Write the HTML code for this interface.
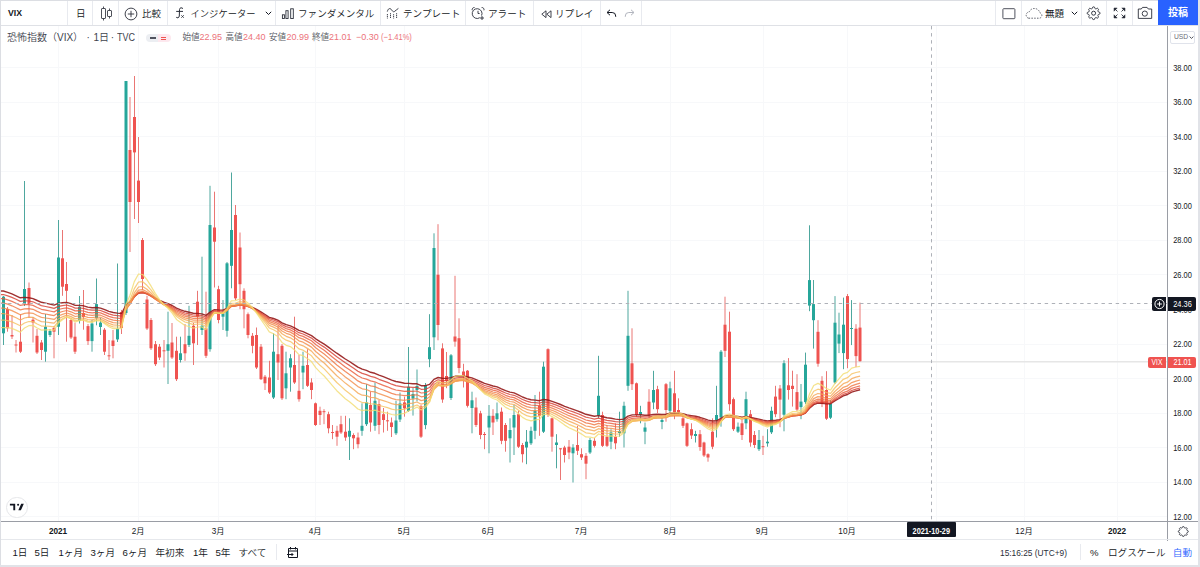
<!DOCTYPE html>
<html lang="ja"><head><meta charset="utf-8"><title>VIX</title>
<style>
html,body{margin:0;padding:0;background:#fff;}
body{position:relative;width:1200px;height:567px;overflow:hidden;font-family:"Liberation Sans","Noto Sans CJK JP",sans-serif;color:#131722;}
.a{position:absolute;white-space:nowrap;}
.t{font-family:"Liberation Sans","Noto Sans CJK JP",sans-serif;font-size:9.6px;line-height:12px;color:#131722;top:7.5px;font-weight:350;}
.sep{position:absolute;width:1px;background:#e8eaef;}
.ic{position:absolute;}
.ax{font-family:"Liberation Sans","Noto Sans CJK JP",sans-serif;font-size:8.2px;line-height:10px;color:#131722;}
.bt{font-family:"Liberation Sans","Noto Sans CJK JP",sans-serif;font-size:9.6px;line-height:12px;color:#131722;font-weight:350;}
.lg{top:31px;font-size:8.6px;line-height:12px;color:#555862;font-weight:350;}
.lv{top:31px;font-size:9px;line-height:12px;color:#ec737b;}
.lt{top:31.3px;font-size:10px;line-height:14px;color:#40434d;font-weight:350;}
</style></head><body>
<!-- frame -->
<div class="a" style="left:0;top:0;width:1199px;height:1px;background:#dcdee3"></div>
<div class="a" style="left:0;top:0;width:1px;height:567px;background:#dcdee3"></div>
<div class="a" style="left:1198px;top:0;width:2px;height:567px;background:#e1e3e8"></div>
<div class="a" style="left:0;top:565px;width:1200px;height:2px;background:#e1e3e8"></div>

<svg class="a" style="left:0;top:0" width="1200" height="567" viewBox="0 0 1200 567">
<defs><clipPath id="cp"><rect x="1" y="26" width="1166" height="495"/></clipPath></defs>
<g stroke="#f7f8fa" stroke-width="1" clip-path="url(#cp)"><line x1="1" x2="1167" y1="516.5" y2="516.5"/><line x1="1" x2="1167" y1="482.5" y2="482.5"/><line x1="1" x2="1167" y1="447.5" y2="447.5"/><line x1="1" x2="1167" y1="413.5" y2="413.5"/><line x1="1" x2="1167" y1="378.5" y2="378.5"/><line x1="1" x2="1167" y1="344.5" y2="344.5"/><line x1="1" x2="1167" y1="309.5" y2="309.5"/><line x1="1" x2="1167" y1="274.5" y2="274.5"/><line x1="1" x2="1167" y1="240.5" y2="240.5"/><line x1="1" x2="1167" y1="205.5" y2="205.5"/><line x1="1" x2="1167" y1="171.5" y2="171.5"/><line x1="1" x2="1167" y1="136.5" y2="136.5"/><line x1="1" x2="1167" y1="102.5" y2="102.5"/><line x1="1" x2="1167" y1="67.5" y2="67.5"/><line x1="58.5" x2="58.5" y1="26" y2="521"/><line x1="138.5" x2="138.5" y1="26" y2="521"/><line x1="218.5" x2="218.5" y1="26" y2="521"/><line x1="315.5" x2="315.5" y1="26" y2="521"/><line x1="404.5" x2="404.5" y1="26" y2="521"/><line x1="488.5" x2="488.5" y1="26" y2="521"/><line x1="581.5" x2="581.5" y1="26" y2="521"/><line x1="670.5" x2="670.5" y1="26" y2="521"/><line x1="763.5" x2="763.5" y1="26" y2="521"/><line x1="847.5" x2="847.5" y1="26" y2="521"/><line x1="936.5" x2="936.5" y1="26" y2="521"/><line x1="1024.5" x2="1024.5" y1="26" y2="521"/><line x1="1117.5" x2="1117.5" y1="26" y2="521"/></g>
<line x1="1" x2="1167" y1="361.8" y2="361.8" stroke="#e6e6e6" stroke-width="1.6"/>
<g stroke-width="1" clip-path="url(#cp)"><line x1="3.5" x2="3.5" y1="296.0" y2="345.0" stroke="#4ea79e"/><rect x="2.0" y="296.7" width="3" height="36.6" fill="#26a69a"/><line x1="7.5" x2="7.5" y1="307.0" y2="331.7" stroke="#ea7674"/><rect x="6.0" y="309.0" width="3" height="19.3" fill="#ef5350"/><line x1="12.0" x2="12.0" y1="315.0" y2="339.0" stroke="#ea7674"/><rect x="10.5" y="335.0" width="3" height="1.5" fill="#ef5350"/><line x1="16.0" x2="16.0" y1="340.0" y2="352.5" stroke="#ea7674"/><rect x="14.5" y="344.5" width="3" height="1.0" fill="#ef5350"/><line x1="20.5" x2="20.5" y1="314.0" y2="353.0" stroke="#ea7674"/><rect x="19.0" y="341.7" width="3" height="10.0" fill="#ef5350"/><line x1="24.5" x2="24.5" y1="181.0" y2="306.0" stroke="#4ea79e"/><rect x="23.0" y="289.0" width="3" height="15.0" fill="#26a69a"/><line x1="29.0" x2="29.0" y1="282.5" y2="318.0" stroke="#ea7674"/><rect x="27.5" y="288.0" width="3" height="16.0" fill="#ef5350"/><line x1="33.0" x2="33.0" y1="317.0" y2="342.5" stroke="#ea7674"/><rect x="31.5" y="319.7" width="3" height="2.8" fill="#ef5350"/><line x1="37.0" x2="37.0" y1="329.0" y2="354.0" stroke="#ea7674"/><rect x="35.5" y="335.8" width="3" height="16.7" fill="#ef5350"/><line x1="41.5" x2="41.5" y1="340.0" y2="360.0" stroke="#ea7674"/><rect x="40.0" y="342.5" width="3" height="7.5" fill="#ef5350"/><line x1="45.5" x2="45.5" y1="314.0" y2="361.7" stroke="#4ea79e"/><rect x="44.0" y="326.7" width="3" height="25.0" fill="#26a69a"/><line x1="50.0" x2="50.0" y1="329.0" y2="337.0" stroke="#4ea79e"/><rect x="48.5" y="331.0" width="3" height="4.0" fill="#26a69a"/><line x1="54.0" x2="54.0" y1="326.0" y2="358.3" stroke="#ea7674"/><rect x="52.5" y="328.0" width="3" height="3.7" fill="#ef5350"/><line x1="58.5" x2="58.5" y1="220.0" y2="335.0" stroke="#4ea79e"/><rect x="57.0" y="257.5" width="3" height="69.2" fill="#26a69a"/><line x1="62.5" x2="62.5" y1="230.0" y2="295.8" stroke="#ea7674"/><rect x="61.0" y="258.3" width="3" height="28.4" fill="#ef5350"/><line x1="66.5" x2="66.5" y1="262.0" y2="341.7" stroke="#ea7674"/><rect x="65.0" y="284.0" width="3" height="6.8" fill="#ef5350"/><line x1="71.0" x2="71.0" y1="318.0" y2="339.0" stroke="#ea7674"/><rect x="69.5" y="320.0" width="3" height="17.5" fill="#ef5350"/><line x1="75.0" x2="75.0" y1="322.6" y2="354.0" stroke="#ea7674"/><rect x="73.5" y="336.7" width="3" height="15.0" fill="#ef5350"/><line x1="79.5" x2="79.5" y1="296.0" y2="323.5" stroke="#4ea79e"/><rect x="78.0" y="306.7" width="3" height="14.1" fill="#26a69a"/><line x1="83.5" x2="83.5" y1="290.0" y2="329.7" stroke="#ea7674"/><rect x="82.0" y="313.0" width="3" height="4.0" fill="#ef5350"/><line x1="88.0" x2="88.0" y1="324.0" y2="345.0" stroke="#ea7674"/><rect x="86.5" y="326.1" width="3" height="15.0" fill="#ef5350"/><line x1="92.0" x2="92.0" y1="320.0" y2="351.7" stroke="#4ea79e"/><rect x="90.5" y="323.5" width="3" height="17.6" fill="#26a69a"/><line x1="96.5" x2="96.5" y1="278.5" y2="325.3" stroke="#4ea79e"/><rect x="95.0" y="304.1" width="3" height="14.1" fill="#26a69a"/><line x1="100.5" x2="100.5" y1="318.0" y2="335.0" stroke="#4ea79e"/><rect x="99.0" y="322.6" width="3" height="4.4" fill="#26a69a"/><line x1="104.5" x2="104.5" y1="328.0" y2="355.0" stroke="#ea7674"/><rect x="103.0" y="329.7" width="3" height="22.0" fill="#ef5350"/><line x1="109.0" x2="109.0" y1="340.0" y2="360.0" stroke="#ea7674"/><rect x="107.5" y="355.3" width="3" height="1.0" fill="#ef5350"/><line x1="113.0" x2="113.0" y1="330.0" y2="358.3" stroke="#ea7674"/><rect x="111.5" y="340.5" width="3" height="5.5" fill="#ef5350"/><line x1="117.5" x2="117.5" y1="263.5" y2="342.0" stroke="#4ea79e"/><rect x="116.0" y="328.8" width="3" height="10.6" fill="#26a69a"/><line x1="121.5" x2="121.5" y1="310.0" y2="334.0" stroke="#ea7674"/><rect x="120.0" y="312.0" width="3" height="16.0" fill="#ef5350"/><line x1="126.0" x2="126.0" y1="81.0" y2="315.0" stroke="#4ea79e"/><rect x="124.5" y="81.0" width="3" height="232.0" fill="#26a69a"/><line x1="130.0" x2="130.0" y1="97.0" y2="252.0" stroke="#ea7674"/><rect x="128.5" y="150.0" width="3" height="52.0" fill="#ef5350"/><line x1="134.5" x2="134.5" y1="76.0" y2="219.0" stroke="#ea7674"/><rect x="133.0" y="117.0" width="3" height="35.4" fill="#ef5350"/><line x1="138.5" x2="138.5" y1="137.0" y2="223.0" stroke="#ea7674"/><rect x="137.0" y="180.6" width="3" height="21.4" fill="#ef5350"/><line x1="142.5" x2="142.5" y1="238.0" y2="290.0" stroke="#ea7674"/><rect x="141.0" y="240.0" width="3" height="39.0" fill="#ef5350"/><line x1="147.0" x2="147.0" y1="295.8" y2="330.0" stroke="#ea7674"/><rect x="145.5" y="299.5" width="3" height="29.0" fill="#ef5350"/><line x1="151.0" x2="151.0" y1="318.0" y2="350.0" stroke="#ea7674"/><rect x="149.5" y="320.0" width="3" height="28.3" fill="#ef5350"/><line x1="155.5" x2="155.5" y1="341.0" y2="366.0" stroke="#ea7674"/><rect x="154.0" y="344.2" width="3" height="20.0" fill="#ef5350"/><line x1="159.5" x2="159.5" y1="344.0" y2="360.0" stroke="#ea7674"/><rect x="158.0" y="346.7" width="3" height="10.8" fill="#ef5350"/><line x1="164.0" x2="164.0" y1="340.0" y2="367.5" stroke="#ea7674"/><rect x="162.5" y="350.3" width="3" height="1.0" fill="#ef5350"/><line x1="168.0" x2="168.0" y1="311.7" y2="384.0" stroke="#4ea79e"/><rect x="166.5" y="344.2" width="3" height="6.6" fill="#26a69a"/><line x1="172.0" x2="172.0" y1="323.0" y2="359.0" stroke="#ea7674"/><rect x="170.5" y="342.5" width="3" height="15.0" fill="#ef5350"/><line x1="176.5" x2="176.5" y1="336.7" y2="381.0" stroke="#ea7674"/><rect x="175.0" y="350.8" width="3" height="28.4" fill="#ef5350"/><line x1="180.5" x2="180.5" y1="336.7" y2="362.5" stroke="#4ea79e"/><rect x="179.0" y="353.3" width="3" height="6.7" fill="#26a69a"/><line x1="185.0" x2="185.0" y1="324.0" y2="360.8" stroke="#ea7674"/><rect x="183.5" y="344.2" width="3" height="9.1" fill="#ef5350"/><line x1="189.0" x2="189.0" y1="305.8" y2="347.0" stroke="#4ea79e"/><rect x="187.5" y="335.8" width="3" height="9.2" fill="#26a69a"/><line x1="193.5" x2="193.5" y1="323.0" y2="365.0" stroke="#ea7674"/><rect x="192.0" y="325.8" width="3" height="17.5" fill="#ef5350"/><line x1="197.5" x2="197.5" y1="290.8" y2="345.0" stroke="#ea7674"/><rect x="196.0" y="301.7" width="3" height="15.0" fill="#ef5350"/><line x1="202.0" x2="202.0" y1="256.7" y2="335.0" stroke="#4ea79e"/><rect x="200.5" y="325.8" width="3" height="4.2" fill="#26a69a"/><line x1="206.0" x2="206.0" y1="291.7" y2="358.0" stroke="#ea7674"/><rect x="204.5" y="328.3" width="3" height="27.5" fill="#ef5350"/><line x1="210.0" x2="210.0" y1="185.8" y2="351.7" stroke="#4ea79e"/><rect x="208.5" y="225.0" width="3" height="124.2" fill="#26a69a"/><line x1="214.5" x2="214.5" y1="191.7" y2="287.5" stroke="#ea7674"/><rect x="213.0" y="227.5" width="3" height="14.2" fill="#ef5350"/><line x1="218.5" x2="218.5" y1="285.8" y2="323.3" stroke="#ea7674"/><rect x="217.0" y="289.2" width="3" height="30.8" fill="#ef5350"/><line x1="223.0" x2="223.0" y1="300.0" y2="330.0" stroke="#4ea79e"/><rect x="221.5" y="313.3" width="3" height="3.4" fill="#26a69a"/><line x1="227.0" x2="227.0" y1="262.0" y2="336.7" stroke="#4ea79e"/><rect x="225.5" y="263.3" width="3" height="67.5" fill="#26a69a"/><line x1="231.5" x2="231.5" y1="172.5" y2="288.3" stroke="#4ea79e"/><rect x="230.0" y="230.0" width="3" height="35.8" fill="#26a69a"/><line x1="235.5" x2="235.5" y1="205.0" y2="300.0" stroke="#ea7674"/><rect x="234.0" y="215.0" width="3" height="83.3" fill="#ef5350"/><line x1="240.0" x2="240.0" y1="232.5" y2="309.2" stroke="#ea7674"/><rect x="238.5" y="247.5" width="3" height="36.7" fill="#ef5350"/><line x1="244.0" x2="244.0" y1="288.3" y2="328.3" stroke="#ea7674"/><rect x="242.5" y="290.8" width="3" height="18.4" fill="#ef5350"/><line x1="248.0" x2="248.0" y1="312.5" y2="338.3" stroke="#ea7674"/><rect x="246.5" y="314.2" width="3" height="20.8" fill="#ef5350"/><line x1="252.5" x2="252.5" y1="333.0" y2="353.3" stroke="#ea7674"/><rect x="251.0" y="335.8" width="3" height="10.0" fill="#ef5350"/><line x1="256.5" x2="256.5" y1="327.5" y2="369.0" stroke="#ea7674"/><rect x="255.0" y="335.0" width="3" height="32.5" fill="#ef5350"/><line x1="261.0" x2="261.0" y1="344.0" y2="380.0" stroke="#ea7674"/><rect x="259.5" y="346.7" width="3" height="32.5" fill="#ef5350"/><line x1="265.0" x2="265.0" y1="375.0" y2="390.0" stroke="#ea7674"/><rect x="263.5" y="376.7" width="3" height="6.6" fill="#ef5350"/><line x1="269.5" x2="269.5" y1="360.8" y2="394.0" stroke="#ea7674"/><rect x="268.0" y="377.5" width="3" height="15.0" fill="#ef5350"/><line x1="273.5" x2="273.5" y1="333.3" y2="399.0" stroke="#4ea79e"/><rect x="272.0" y="351.7" width="3" height="45.8" fill="#26a69a"/><line x1="278.0" x2="278.0" y1="325.8" y2="380.0" stroke="#ea7674"/><rect x="276.5" y="354.2" width="3" height="8.3" fill="#ef5350"/><line x1="282.0" x2="282.0" y1="344.0" y2="400.0" stroke="#ea7674"/><rect x="280.5" y="345.8" width="3" height="52.5" fill="#ef5350"/><line x1="286.0" x2="286.0" y1="351.7" y2="399.2" stroke="#4ea79e"/><rect x="284.5" y="373.3" width="3" height="15.0" fill="#26a69a"/><line x1="290.5" x2="290.5" y1="354.2" y2="391.7" stroke="#4ea79e"/><rect x="289.0" y="358.3" width="3" height="9.2" fill="#26a69a"/><line x1="294.5" x2="294.5" y1="316.7" y2="384.0" stroke="#ea7674"/><rect x="293.0" y="365.0" width="3" height="17.5" fill="#ef5350"/><line x1="299.0" x2="299.0" y1="355.0" y2="401.7" stroke="#ea7674"/><rect x="297.5" y="390.8" width="3" height="8.4" fill="#ef5350"/><line x1="303.0" x2="303.0" y1="351.7" y2="389.2" stroke="#4ea79e"/><rect x="301.5" y="365.8" width="3" height="6.7" fill="#26a69a"/><line x1="307.5" x2="307.5" y1="349.2" y2="387.0" stroke="#ea7674"/><rect x="306.0" y="365.0" width="3" height="20.8" fill="#ef5350"/><line x1="311.5" x2="311.5" y1="378.3" y2="399.2" stroke="#ea7674"/><rect x="310.0" y="382.5" width="3" height="7.5" fill="#ef5350"/><line x1="315.5" x2="315.5" y1="402.5" y2="426.0" stroke="#ea7674"/><rect x="314.0" y="403.3" width="3" height="21.7" fill="#ef5350"/><line x1="320.0" x2="320.0" y1="406.7" y2="425.0" stroke="#ea7674"/><rect x="318.5" y="410.8" width="3" height="4.2" fill="#ef5350"/><line x1="324.0" x2="324.0" y1="409.2" y2="424.2" stroke="#ea7674"/><rect x="322.5" y="411.2" width="3" height="1.0" fill="#ef5350"/><line x1="328.5" x2="328.5" y1="411.7" y2="433.3" stroke="#ea7674"/><rect x="327.0" y="414.2" width="3" height="14.1" fill="#ef5350"/><line x1="332.5" x2="332.5" y1="425.0" y2="439.2" stroke="#ea7674"/><rect x="331.0" y="432.0" width="3" height="1.0" fill="#ef5350"/><line x1="337.0" x2="337.0" y1="425.8" y2="445.8" stroke="#ea7674"/><rect x="335.5" y="430.8" width="3" height="5.9" fill="#ef5350"/><line x1="341.0" x2="341.0" y1="415.8" y2="434.0" stroke="#ea7674"/><rect x="339.5" y="424.2" width="3" height="8.3" fill="#ef5350"/><line x1="345.5" x2="345.5" y1="415.8" y2="440.8" stroke="#ea7674"/><rect x="344.0" y="431.7" width="3" height="5.8" fill="#ef5350"/><line x1="349.5" x2="349.5" y1="418.3" y2="460.0" stroke="#4ea79e"/><rect x="348.0" y="430.8" width="3" height="5.9" fill="#26a69a"/><line x1="353.5" x2="353.5" y1="433.3" y2="449.2" stroke="#ea7674"/><rect x="352.0" y="435.0" width="3" height="3.3" fill="#ef5350"/><line x1="358.0" x2="358.0" y1="432.5" y2="448.3" stroke="#ea7674"/><rect x="356.5" y="437.5" width="3" height="6.7" fill="#ef5350"/><line x1="362.0" x2="362.0" y1="403.3" y2="435.8" stroke="#4ea79e"/><rect x="360.5" y="425.8" width="3" height="5.0" fill="#26a69a"/><line x1="366.5" x2="366.5" y1="384.2" y2="426.0" stroke="#4ea79e"/><rect x="365.0" y="402.5" width="3" height="21.7" fill="#26a69a"/><line x1="370.5" x2="370.5" y1="391.7" y2="431.7" stroke="#ea7674"/><rect x="369.0" y="405.0" width="3" height="17.5" fill="#ef5350"/><line x1="375.0" x2="375.0" y1="382.5" y2="430.8" stroke="#4ea79e"/><rect x="373.5" y="400.8" width="3" height="25.0" fill="#26a69a"/><line x1="379.0" x2="379.0" y1="400.0" y2="434.2" stroke="#ea7674"/><rect x="377.5" y="404.2" width="3" height="20.8" fill="#ef5350"/><line x1="383.5" x2="383.5" y1="408.0" y2="432.5" stroke="#ea7674"/><rect x="382.0" y="414.2" width="3" height="5.8" fill="#ef5350"/><line x1="387.5" x2="387.5" y1="411.7" y2="430.8" stroke="#ea7674"/><rect x="386.0" y="420.3" width="3" height="1.0" fill="#ef5350"/><line x1="391.5" x2="391.5" y1="417.5" y2="437.0" stroke="#ea7674"/><rect x="390.0" y="422.5" width="3" height="4.5" fill="#ef5350"/><line x1="396.0" x2="396.0" y1="400.8" y2="435.0" stroke="#4ea79e"/><rect x="394.5" y="420.5" width="3" height="12.8" fill="#26a69a"/><line x1="400.0" x2="400.0" y1="392.6" y2="422.0" stroke="#4ea79e"/><rect x="398.5" y="403.5" width="3" height="16.0" fill="#26a69a"/><line x1="404.5" x2="404.5" y1="396.7" y2="416.7" stroke="#ea7674"/><rect x="403.0" y="402.4" width="3" height="6.0" fill="#ef5350"/><line x1="408.5" x2="408.5" y1="347.0" y2="412.0" stroke="#4ea79e"/><rect x="407.0" y="386.8" width="3" height="24.2" fill="#26a69a"/><line x1="413.0" x2="413.0" y1="388.0" y2="415.6" stroke="#4ea79e"/><rect x="411.5" y="394.0" width="3" height="4.6" fill="#26a69a"/><line x1="417.0" x2="417.0" y1="369.5" y2="401.4" stroke="#4ea79e"/><rect x="415.5" y="386.0" width="3" height="4.0" fill="#26a69a"/><line x1="421.0" x2="421.0" y1="405.0" y2="438.0" stroke="#ea7674"/><rect x="419.5" y="406.3" width="3" height="30.4" fill="#ef5350"/><line x1="425.5" x2="425.5" y1="383.0" y2="429.2" stroke="#4ea79e"/><rect x="424.0" y="385.0" width="3" height="40.1" fill="#26a69a"/><line x1="429.5" x2="429.5" y1="314.2" y2="367.2" stroke="#4ea79e"/><rect x="428.0" y="347.2" width="3" height="12.0" fill="#26a69a"/><line x1="434.0" x2="434.0" y1="233.3" y2="350.0" stroke="#4ea79e"/><rect x="432.5" y="248.0" width="3" height="89.3" fill="#26a69a"/><line x1="438.0" x2="438.0" y1="224.2" y2="340.3" stroke="#ea7674"/><rect x="436.5" y="274.7" width="3" height="50.3" fill="#ef5350"/><line x1="442.5" x2="442.5" y1="343.3" y2="402.8" stroke="#ea7674"/><rect x="441.0" y="348.4" width="3" height="51.1" fill="#ef5350"/><line x1="446.5" x2="446.5" y1="352.0" y2="388.2" stroke="#ea7674"/><rect x="445.0" y="376.0" width="3" height="5.0" fill="#ef5350"/><line x1="451.0" x2="451.0" y1="354.0" y2="400.0" stroke="#4ea79e"/><rect x="449.5" y="355.3" width="3" height="42.7" fill="#26a69a"/><line x1="455.0" x2="455.0" y1="275.8" y2="346.7" stroke="#ea7674"/><rect x="453.5" y="336.5" width="3" height="5.1" fill="#ef5350"/><line x1="459.0" x2="459.0" y1="318.3" y2="373.2" stroke="#ea7674"/><rect x="457.5" y="338.2" width="3" height="29.8" fill="#ef5350"/><line x1="463.5" x2="463.5" y1="363.8" y2="387.5" stroke="#ea7674"/><rect x="462.0" y="371.5" width="3" height="4.3" fill="#ef5350"/><line x1="467.5" x2="467.5" y1="370.0" y2="407.5" stroke="#ea7674"/><rect x="466.0" y="370.7" width="3" height="35.1" fill="#ef5350"/><line x1="472.0" x2="472.0" y1="391.7" y2="433.3" stroke="#4ea79e"/><rect x="470.5" y="400.3" width="3" height="7.7" fill="#26a69a"/><line x1="476.0" x2="476.0" y1="397.5" y2="427.0" stroke="#ea7674"/><rect x="474.5" y="407.5" width="3" height="17.5" fill="#ef5350"/><line x1="480.5" x2="480.5" y1="410.8" y2="439.2" stroke="#ea7674"/><rect x="479.0" y="413.3" width="3" height="21.7" fill="#ef5350"/><line x1="484.5" x2="484.5" y1="432.0" y2="449.2" stroke="#ea7674"/><rect x="483.0" y="434.0" width="3" height="1.0" fill="#ef5350"/><line x1="489.0" x2="489.0" y1="405.0" y2="453.3" stroke="#4ea79e"/><rect x="487.5" y="415.8" width="3" height="11.7" fill="#26a69a"/><line x1="493.0" x2="493.0" y1="409.2" y2="435.0" stroke="#ea7674"/><rect x="491.5" y="415.8" width="3" height="6.7" fill="#ef5350"/><line x1="497.0" x2="497.0" y1="402.5" y2="421.7" stroke="#4ea79e"/><rect x="495.5" y="413.3" width="3" height="5.9" fill="#26a69a"/><line x1="501.5" x2="501.5" y1="407.5" y2="444.2" stroke="#ea7674"/><rect x="500.0" y="411.7" width="3" height="29.1" fill="#ef5350"/><line x1="505.5" x2="505.5" y1="423.0" y2="451.7" stroke="#ea7674"/><rect x="504.0" y="425.0" width="3" height="15.8" fill="#ef5350"/><line x1="510.0" x2="510.0" y1="418.3" y2="462.5" stroke="#4ea79e"/><rect x="508.5" y="430.0" width="3" height="8.3" fill="#26a69a"/><line x1="514.0" x2="514.0" y1="405.0" y2="455.0" stroke="#4ea79e"/><rect x="512.5" y="415.0" width="3" height="12.5" fill="#26a69a"/><line x1="518.5" x2="518.5" y1="410.8" y2="448.0" stroke="#ea7674"/><rect x="517.0" y="414.2" width="3" height="32.5" fill="#ef5350"/><line x1="522.5" x2="522.5" y1="443.0" y2="462.5" stroke="#ea7674"/><rect x="521.0" y="445.0" width="3" height="9.2" fill="#ef5350"/><line x1="526.5" x2="526.5" y1="430.0" y2="464.2" stroke="#4ea79e"/><rect x="525.0" y="441.7" width="3" height="5.8" fill="#26a69a"/><line x1="531.0" x2="531.0" y1="426.7" y2="445.0" stroke="#4ea79e"/><rect x="529.5" y="430.8" width="3" height="12.5" fill="#26a69a"/><line x1="535.0" x2="535.0" y1="395.0" y2="439.2" stroke="#4ea79e"/><rect x="533.5" y="410.8" width="3" height="20.0" fill="#26a69a"/><line x1="539.5" x2="539.5" y1="391.7" y2="435.8" stroke="#ea7674"/><rect x="538.0" y="405.8" width="3" height="10.0" fill="#ef5350"/><line x1="543.5" x2="543.5" y1="361.7" y2="433.0" stroke="#4ea79e"/><rect x="542.0" y="366.7" width="3" height="65.0" fill="#26a69a"/><line x1="548.0" x2="548.0" y1="348.3" y2="417.0" stroke="#ea7674"/><rect x="546.5" y="349.2" width="3" height="65.8" fill="#ef5350"/><line x1="552.0" x2="552.0" y1="417.5" y2="451.7" stroke="#ea7674"/><rect x="550.5" y="418.3" width="3" height="18.4" fill="#ef5350"/><line x1="556.5" x2="556.5" y1="434.2" y2="468.3" stroke="#4ea79e"/><rect x="555.0" y="442.5" width="3" height="2.5" fill="#26a69a"/><line x1="560.5" x2="560.5" y1="448.3" y2="480.0" stroke="#ea7674"/><rect x="559.0" y="448.3" width="3" height="1.0" fill="#ef5350"/><line x1="564.5" x2="564.5" y1="445.8" y2="462.5" stroke="#ea7674"/><rect x="563.0" y="447.5" width="3" height="7.5" fill="#ef5350"/><line x1="569.0" x2="569.0" y1="440.0" y2="459.2" stroke="#ea7674"/><rect x="567.5" y="446.7" width="3" height="5.8" fill="#ef5350"/><line x1="573.0" x2="573.0" y1="444.2" y2="482.5" stroke="#4ea79e"/><rect x="571.5" y="447.5" width="3" height="5.8" fill="#26a69a"/><line x1="577.5" x2="577.5" y1="425.8" y2="455.0" stroke="#ea7674"/><rect x="576.0" y="445.0" width="3" height="5.8" fill="#ef5350"/><line x1="581.5" x2="581.5" y1="448.3" y2="460.0" stroke="#ea7674"/><rect x="580.0" y="454.2" width="3" height="3.3" fill="#ef5350"/><line x1="586.0" x2="586.0" y1="453.0" y2="479.2" stroke="#ea7674"/><rect x="584.5" y="455.8" width="3" height="7.9" fill="#ef5350"/><line x1="590.0" x2="590.0" y1="438.0" y2="454.0" stroke="#4ea79e"/><rect x="588.5" y="440.0" width="3" height="12.5" fill="#26a69a"/><line x1="594.5" x2="594.5" y1="438.0" y2="447.5" stroke="#ea7674"/><rect x="593.0" y="440.8" width="3" height="5.0" fill="#ef5350"/><line x1="598.5" x2="598.5" y1="355.8" y2="418.0" stroke="#4ea79e"/><rect x="597.0" y="395.8" width="3" height="20.0" fill="#26a69a"/><line x1="602.5" x2="602.5" y1="411.7" y2="447.0" stroke="#ea7674"/><rect x="601.0" y="415.0" width="3" height="30.8" fill="#ef5350"/><line x1="607.0" x2="607.0" y1="425.0" y2="447.0" stroke="#ea7674"/><rect x="605.5" y="436.7" width="3" height="9.1" fill="#ef5350"/><line x1="611.0" x2="611.0" y1="429.2" y2="449.2" stroke="#4ea79e"/><rect x="609.5" y="432.5" width="3" height="9.2" fill="#26a69a"/><line x1="615.5" x2="615.5" y1="423.3" y2="449.2" stroke="#ea7674"/><rect x="614.0" y="436.7" width="3" height="6.6" fill="#ef5350"/><line x1="619.5" x2="619.5" y1="411.7" y2="436.7" stroke="#4ea79e"/><rect x="618.0" y="431.0" width="3" height="2.0" fill="#26a69a"/><line x1="624.0" x2="624.0" y1="401.7" y2="447.5" stroke="#4ea79e"/><rect x="622.5" y="405.8" width="3" height="27.5" fill="#26a69a"/><line x1="628.0" x2="628.0" y1="290.8" y2="390.8" stroke="#4ea79e"/><rect x="626.5" y="335.8" width="3" height="50.0" fill="#26a69a"/><line x1="632.0" x2="632.0" y1="328.3" y2="390.0" stroke="#ea7674"/><rect x="630.5" y="363.3" width="3" height="20.9" fill="#ef5350"/><line x1="636.5" x2="636.5" y1="382.5" y2="417.0" stroke="#ea7674"/><rect x="635.0" y="383.3" width="3" height="31.7" fill="#ef5350"/><line x1="640.5" x2="640.5" y1="405.8" y2="423.3" stroke="#4ea79e"/><rect x="639.0" y="412.0" width="3" height="3.0" fill="#26a69a"/><line x1="645.0" x2="645.0" y1="422.5" y2="444.2" stroke="#4ea79e"/><rect x="643.5" y="427.5" width="3" height="4.2" fill="#26a69a"/><line x1="649.0" x2="649.0" y1="389.2" y2="418.0" stroke="#ea7674"/><rect x="647.5" y="401.7" width="3" height="13.3" fill="#ef5350"/><line x1="653.5" x2="653.5" y1="370.8" y2="409.2" stroke="#4ea79e"/><rect x="652.0" y="390.0" width="3" height="12.5" fill="#26a69a"/><line x1="657.5" x2="657.5" y1="385.8" y2="413.0" stroke="#ea7674"/><rect x="656.0" y="389.2" width="3" height="20.0" fill="#ef5350"/><line x1="662.0" x2="662.0" y1="418.0" y2="429.2" stroke="#4ea79e"/><rect x="660.5" y="420.0" width="3" height="2.0" fill="#26a69a"/><line x1="666.0" x2="666.0" y1="383.0" y2="421.7" stroke="#ea7674"/><rect x="664.5" y="384.2" width="3" height="25.8" fill="#ef5350"/><line x1="670.0" x2="670.0" y1="381.7" y2="413.0" stroke="#4ea79e"/><rect x="668.5" y="388.3" width="3" height="22.5" fill="#26a69a"/><line x1="674.5" x2="674.5" y1="370.8" y2="419.2" stroke="#ea7674"/><rect x="673.0" y="393.3" width="3" height="19.2" fill="#ef5350"/><line x1="678.5" x2="678.5" y1="398.3" y2="415.0" stroke="#ea7674"/><rect x="677.0" y="410.0" width="3" height="2.5" fill="#ef5350"/><line x1="683.0" x2="683.0" y1="415.0" y2="428.0" stroke="#ea7674"/><rect x="681.5" y="418.3" width="3" height="7.5" fill="#ef5350"/><line x1="687.0" x2="687.0" y1="422.5" y2="447.0" stroke="#ea7674"/><rect x="685.5" y="423.3" width="3" height="22.5" fill="#ef5350"/><line x1="691.5" x2="691.5" y1="423.3" y2="439.0" stroke="#ea7674"/><rect x="690.0" y="429.2" width="3" height="6.3" fill="#ef5350"/><line x1="695.5" x2="695.5" y1="430.8" y2="442.5" stroke="#4ea79e"/><rect x="694.0" y="434.0" width="3" height="2.0" fill="#26a69a"/><line x1="700.0" x2="700.0" y1="430.0" y2="450.8" stroke="#ea7674"/><rect x="698.5" y="434.2" width="3" height="12.8" fill="#ef5350"/><line x1="704.0" x2="704.0" y1="441.7" y2="457.0" stroke="#ea7674"/><rect x="702.5" y="442.5" width="3" height="13.0" fill="#ef5350"/><line x1="708.0" x2="708.0" y1="453.3" y2="461.7" stroke="#ea7674"/><rect x="706.5" y="454.2" width="3" height="3.3" fill="#ef5350"/><line x1="712.5" x2="712.5" y1="418.3" y2="449.2" stroke="#ea7674"/><rect x="711.0" y="431.7" width="3" height="15.0" fill="#ef5350"/><line x1="716.5" x2="716.5" y1="385.8" y2="437.5" stroke="#4ea79e"/><rect x="715.0" y="415.0" width="3" height="5.0" fill="#26a69a"/><line x1="721.0" x2="721.0" y1="350.0" y2="426.7" stroke="#4ea79e"/><rect x="719.5" y="351.7" width="3" height="65.8" fill="#26a69a"/><line x1="725.0" x2="725.0" y1="296.7" y2="357.0" stroke="#ea7674"/><rect x="723.5" y="324.7" width="3" height="26.1" fill="#ef5350"/><line x1="729.5" x2="729.5" y1="311.7" y2="410.8" stroke="#ea7674"/><rect x="728.0" y="331.7" width="3" height="72.5" fill="#ef5350"/><line x1="733.5" x2="733.5" y1="397.5" y2="431.0" stroke="#ea7674"/><rect x="732.0" y="399.2" width="3" height="30.0" fill="#ef5350"/><line x1="738.0" x2="738.0" y1="422.5" y2="433.0" stroke="#4ea79e"/><rect x="736.5" y="426.7" width="3" height="5.0" fill="#26a69a"/><line x1="742.0" x2="742.0" y1="420.0" y2="440.0" stroke="#ea7674"/><rect x="740.5" y="423.3" width="3" height="11.7" fill="#ef5350"/><line x1="746.0" x2="746.0" y1="391.7" y2="429.2" stroke="#4ea79e"/><rect x="744.5" y="399.2" width="3" height="24.1" fill="#26a69a"/><line x1="750.5" x2="750.5" y1="410.0" y2="446.7" stroke="#ea7674"/><rect x="749.0" y="414.2" width="3" height="28.3" fill="#ef5350"/><line x1="754.5" x2="754.5" y1="431.0" y2="448.0" stroke="#ea7674"/><rect x="753.0" y="435.0" width="3" height="10.0" fill="#ef5350"/><line x1="759.0" x2="759.0" y1="430.0" y2="451.0" stroke="#4ea79e"/><rect x="757.5" y="440.0" width="3" height="9.2" fill="#26a69a"/><line x1="763.0" x2="763.0" y1="435.8" y2="455.0" stroke="#ea7674"/><rect x="761.5" y="446.2" width="3" height="1.0" fill="#ef5350"/><line x1="767.5" x2="767.5" y1="429.2" y2="446.7" stroke="#4ea79e"/><rect x="766.0" y="441.7" width="3" height="1.6" fill="#26a69a"/><line x1="771.5" x2="771.5" y1="406.7" y2="434.0" stroke="#4ea79e"/><rect x="770.0" y="410.8" width="3" height="21.5" fill="#26a69a"/><line x1="775.5" x2="775.5" y1="385.8" y2="417.2" stroke="#ea7674"/><rect x="774.0" y="396.6" width="3" height="17.6" fill="#ef5350"/><line x1="780.0" x2="780.0" y1="385.0" y2="427.2" stroke="#ea7674"/><rect x="778.5" y="388.5" width="3" height="11.1" fill="#ef5350"/><line x1="784.0" x2="784.0" y1="360.2" y2="431.3" stroke="#4ea79e"/><rect x="782.5" y="363.2" width="3" height="51.5" fill="#26a69a"/><line x1="788.5" x2="788.5" y1="358.1" y2="399.6" stroke="#ea7674"/><rect x="787.0" y="385.3" width="3" height="4.7" fill="#ef5350"/><line x1="792.5" x2="792.5" y1="370.7" y2="406.6" stroke="#ea7674"/><rect x="791.0" y="385.8" width="3" height="3.2" fill="#ef5350"/><line x1="797.0" x2="797.0" y1="374.2" y2="411.0" stroke="#ea7674"/><rect x="795.5" y="392.1" width="3" height="17.5" fill="#ef5350"/><line x1="801.0" x2="801.0" y1="384.0" y2="419.2" stroke="#4ea79e"/><rect x="799.5" y="401.6" width="3" height="5.5" fill="#26a69a"/><line x1="805.5" x2="805.5" y1="352.6" y2="404.0" stroke="#4ea79e"/><rect x="804.0" y="364.7" width="3" height="37.4" fill="#26a69a"/><line x1="809.5" x2="809.5" y1="225.3" y2="311.2" stroke="#4ea79e"/><rect x="808.0" y="280.1" width="3" height="25.5" fill="#26a69a"/><line x1="813.5" x2="813.5" y1="280.0" y2="348.6" stroke="#4ea79e"/><rect x="812.0" y="304.1" width="3" height="16.1" fill="#26a69a"/><line x1="818.0" x2="818.0" y1="320.2" y2="366.7" stroke="#ea7674"/><rect x="816.5" y="331.8" width="3" height="31.9" fill="#ef5350"/><line x1="822.0" x2="822.0" y1="376.2" y2="407.1" stroke="#ea7674"/><rect x="820.5" y="380.8" width="3" height="23.3" fill="#ef5350"/><line x1="826.5" x2="826.5" y1="371.2" y2="420.0" stroke="#ea7674"/><rect x="825.0" y="390.0" width="3" height="28.7" fill="#ef5350"/><line x1="830.5" x2="830.5" y1="400.0" y2="419.0" stroke="#4ea79e"/><rect x="829.0" y="403.6" width="3" height="14.1" fill="#26a69a"/><line x1="835.0" x2="835.0" y1="296.1" y2="384.0" stroke="#4ea79e"/><rect x="833.5" y="322.7" width="3" height="59.8" fill="#26a69a"/><line x1="839.0" x2="839.0" y1="312.7" y2="353.1" stroke="#4ea79e"/><rect x="837.5" y="334.5" width="3" height="9.1" fill="#26a69a"/><line x1="843.5" x2="843.5" y1="297.6" y2="369.2" stroke="#4ea79e"/><rect x="842.0" y="324.7" width="3" height="28.4" fill="#26a69a"/><line x1="847.5" x2="847.5" y1="294.0" y2="368.2" stroke="#ea7674"/><rect x="846.0" y="296.1" width="3" height="63.0" fill="#ef5350"/><line x1="851.5" x2="851.5" y1="300.1" y2="345.1" stroke="#4ea79e"/><rect x="850.0" y="328.0" width="3" height="1.0" fill="#26a69a"/><line x1="856.0" x2="856.0" y1="324.2" y2="367.2" stroke="#ea7674"/><rect x="854.5" y="328.7" width="3" height="27.4" fill="#ef5350"/><line x1="860.0" x2="860.0" y1="302.6" y2="361.6" stroke="#ea7674"/><rect x="858.5" y="327.6" width="3" height="33.6" fill="#ef5350"/></g>
<g clip-path="url(#cp)"><path d="M0.0,291.0 L3.4,291.0 L7.7,292.3 L11.9,293.9 L16.1,295.8 L20.3,297.8 L24.5,297.4 L28.8,297.7 L33.0,298.6 L37.2,300.5 L41.4,302.3 L45.6,303.1 L49.9,304.1 L54.1,305.1 L58.3,303.4 L62.5,302.8 L66.7,302.4 L71.0,303.6 L75.2,305.4 L79.4,305.4 L83.6,305.8 L87.8,307.1 L92.1,307.7 L96.3,307.5 L100.5,308.1 L104.7,309.6 L108.9,311.3 L113.2,312.5 L117.4,313.1 L121.6,313.6 L125.8,305.3 L130.0,301.6 L134.3,296.3 L138.5,293.0 L142.7,292.5 L146.9,293.7 L151.1,295.7 L155.4,298.1 L159.6,300.3 L163.8,302.1 L168.0,303.6 L172.2,305.5 L176.5,308.1 L180.7,309.8 L184.9,311.3 L189.1,312.2 L193.3,313.3 L197.6,313.4 L201.8,313.9 L206.0,315.4 L210.2,312.1 L214.4,309.6 L218.7,310.0 L222.9,310.1 L227.1,308.4 L231.3,305.6 L235.5,305.4 L239.8,304.6 L244.0,304.8 L248.2,305.9 L252.4,307.3 L256.6,309.4 L260.9,311.9 L265.1,314.5 L269.3,317.3 L273.5,318.5 L277.8,320.1 L282.0,322.9 L286.2,324.7 L290.4,325.9 L294.6,327.9 L298.9,330.4 L303.1,331.7 L307.3,333.6 L311.5,335.6 L315.7,338.8 L320.0,341.6 L324.2,344.1 L328.4,347.1 L332.6,350.2 L336.8,353.2 L341.1,356.1 L345.3,359.0 L349.5,361.5 L353.7,364.3 L357.9,367.1 L362.2,369.2 L366.4,370.4 L370.6,372.3 L374.8,373.3 L379.0,375.1 L383.3,376.7 L387.5,378.3 L391.7,380.1 L395.9,381.5 L400.1,382.3 L404.4,383.2 L408.6,383.4 L412.8,383.7 L417.0,383.8 L421.2,385.7 L425.5,385.7 L429.7,384.3 L433.9,379.4 L438.1,377.5 L442.3,378.3 L446.6,378.4 L450.8,377.6 L455.0,376.3 L459.2,376.0 L463.4,376.0 L467.7,377.0 L471.9,377.9 L476.1,379.6 L480.3,381.5 L484.5,383.4 L488.8,384.6 L493.0,386.0 L497.2,386.9 L501.4,388.9 L505.6,390.7 L509.9,392.1 L514.1,392.9 L518.3,394.8 L522.5,397.0 L526.7,398.6 L531.0,399.7 L535.2,400.1 L539.4,400.7 L543.6,399.5 L547.8,400.0 L552.1,401.3 L556.3,402.8 L560.5,404.5 L564.7,406.3 L568.9,407.9 L573.2,409.3 L577.4,410.8 L581.6,412.5 L585.8,414.3 L590.0,415.2 L594.3,416.3 L598.5,415.6 L602.7,416.7 L606.9,417.7 L611.1,418.2 L615.4,419.1 L619.6,419.6 L623.8,419.1 L628.0,416.1 L632.2,414.9 L636.5,414.9 L640.7,414.8 L644.9,415.3 L649.1,415.3 L653.3,414.4 L657.6,414.2 L661.8,414.4 L666.0,414.2 L670.2,413.3 L674.4,413.3 L678.7,413.3 L682.9,413.7 L687.1,414.9 L691.3,415.6 L695.6,416.3 L699.8,417.3 L704.0,418.7 L708.2,420.1 L712.4,421.0 L716.7,420.8 L720.9,418.4 L725.1,415.9 L729.3,415.5 L733.5,416.0 L737.8,416.4 L742.0,417.1 L746.2,416.4 L750.4,417.4 L754.6,418.3 L758.9,419.1 L763.1,420.1 L767.3,420.9 L771.5,420.5 L775.7,420.3 L780.0,419.6 L784.2,417.6 L788.4,416.6 L792.6,415.6 L796.8,415.4 L801.1,414.9 L805.3,413.1 L809.5,408.3 L813.7,404.6 L817.9,403.2 L822.2,403.2 L826.4,403.7 L830.6,403.7 L834.8,400.8 L839.0,398.5 L843.3,395.8 L847.5,394.5 L851.7,392.1 L855.9,390.9 L860.1,389.8" fill="none" stroke="#951a1a" stroke-width="1.4" stroke-opacity="0.9" stroke-linejoin="round"/><path d="M0.0,294.5 L3.4,294.5 L7.7,295.8 L11.9,297.4 L16.1,299.3 L20.3,301.4 L24.5,300.9 L28.8,301.0 L33.0,301.8 L37.2,303.8 L41.4,305.6 L45.6,306.5 L49.9,307.4 L54.1,308.4 L58.3,306.4 L62.5,305.6 L66.7,305.0 L71.0,306.3 L75.2,308.1 L79.4,308.0 L83.6,308.4 L87.8,309.7 L92.1,310.2 L96.3,310.0 L100.5,310.5 L104.7,312.1 L108.9,313.8 L113.2,315.1 L117.4,315.6 L121.6,316.1 L125.8,306.9 L130.0,302.8 L134.3,296.9 L138.5,293.2 L142.7,292.6 L146.9,294.0 L151.1,296.1 L155.4,298.8 L159.6,301.1 L163.8,303.1 L168.0,304.7 L172.2,306.8 L176.5,309.6 L180.7,311.3 L184.9,313.0 L189.1,313.9 L193.3,315.0 L197.6,315.1 L201.8,315.5 L206.0,317.1 L210.2,313.5 L214.4,310.7 L218.7,311.0 L222.9,311.1 L227.1,309.2 L231.3,306.1 L235.5,305.8 L239.8,305.0 L244.0,305.1 L248.2,306.3 L252.4,307.9 L256.6,310.2 L260.9,312.9 L265.1,315.7 L269.3,318.7 L273.5,320.0 L277.8,321.6 L282.0,324.6 L286.2,326.6 L290.4,327.8 L294.6,329.9 L298.9,332.7 L303.1,334.0 L307.3,336.0 L311.5,338.1 L315.7,341.5 L320.0,344.4 L324.2,347.1 L328.4,350.2 L332.6,353.5 L336.8,356.8 L341.1,359.7 L345.3,362.8 L349.5,365.4 L353.7,368.3 L357.9,371.3 L362.2,373.4 L366.4,374.6 L370.6,376.4 L374.8,377.4 L379.0,379.3 L383.3,380.9 L387.5,382.4 L391.7,384.2 L395.9,385.6 L400.1,386.3 L404.4,387.2 L408.6,387.2 L412.8,387.4 L417.0,387.4 L421.2,389.3 L425.5,389.1 L429.7,387.5 L433.9,382.0 L438.1,379.8 L442.3,380.6 L446.6,380.6 L450.8,379.6 L455.0,378.1 L459.2,377.7 L463.4,377.6 L467.7,378.7 L471.9,379.6 L476.1,381.4 L480.3,383.5 L484.5,385.5 L488.8,386.7 L493.0,388.1 L497.2,389.1 L501.4,391.1 L505.6,393.0 L509.9,394.5 L514.1,395.3 L518.3,397.3 L522.5,399.5 L526.7,401.2 L531.0,402.4 L535.2,402.7 L539.4,403.2 L543.6,401.8 L547.8,402.3 L552.1,403.6 L556.3,405.2 L560.5,406.9 L564.7,408.8 L568.9,410.5 L573.2,411.9 L577.4,413.5 L581.6,415.2 L585.8,417.1 L590.0,418.0 L594.3,419.1 L598.5,418.2 L602.7,419.3 L606.9,420.3 L611.1,420.8 L615.4,421.7 L619.6,422.0 L623.8,421.4 L628.0,418.0 L632.2,416.7 L636.5,416.6 L640.7,416.5 L644.9,416.9 L649.1,416.8 L653.3,415.8 L657.6,415.5 L661.8,415.7 L666.0,415.5 L670.2,414.4 L674.4,414.3 L678.7,414.3 L682.9,414.7 L687.1,415.9 L691.3,416.7 L695.6,417.4 L699.8,418.5 L704.0,420.0 L708.2,421.5 L712.4,422.4 L716.7,422.2 L720.9,419.4 L725.1,416.7 L729.3,416.2 L733.5,416.7 L737.8,417.1 L742.0,417.8 L746.2,417.1 L750.4,418.1 L754.6,419.1 L758.9,420.0 L763.1,421.0 L767.3,421.8 L771.5,421.4 L775.7,421.1 L780.0,420.3 L784.2,418.0 L788.4,416.9 L792.6,415.8 L796.8,415.6 L801.1,415.0 L805.3,413.1 L809.5,407.9 L813.7,403.8 L817.9,402.2 L822.2,402.3 L826.4,402.9 L830.6,403.0 L834.8,399.8 L839.0,397.3 L843.3,394.4 L847.5,393.0 L851.7,390.5 L855.9,389.1 L860.1,388.0" fill="none" stroke="#d63c30" stroke-width="1.25" stroke-opacity="0.8" stroke-linejoin="round"/><path d="M0.0,298.5 L3.4,298.5 L7.7,299.8 L11.9,301.4 L16.1,303.3 L20.3,305.4 L24.5,304.7 L28.8,304.7 L33.0,305.4 L37.2,307.5 L41.4,309.3 L45.6,310.1 L49.9,311.0 L54.1,311.9 L58.3,309.5 L62.5,308.5 L66.7,307.8 L71.0,309.1 L75.2,310.9 L79.4,310.7 L83.6,311.0 L87.8,312.3 L92.1,312.8 L96.3,312.4 L100.5,312.9 L104.7,314.6 L108.9,316.4 L113.2,317.7 L117.4,318.1 L121.6,318.6 L125.8,308.2 L130.0,303.6 L134.3,297.0 L138.5,292.9 L142.7,292.3 L146.9,293.9 L151.1,296.2 L155.4,299.2 L159.6,301.7 L163.8,303.9 L168.0,305.6 L172.2,307.9 L176.5,311.0 L180.7,312.8 L184.9,314.6 L189.1,315.5 L193.3,316.7 L197.6,316.7 L201.8,317.1 L206.0,318.8 L210.2,314.7 L214.4,311.5 L218.7,311.9 L222.9,312.0 L227.1,309.9 L231.3,306.4 L235.5,306.0 L239.8,305.1 L244.0,305.3 L248.2,306.6 L252.4,308.3 L256.6,310.8 L260.9,313.8 L265.1,316.8 L269.3,320.1 L273.5,321.5 L277.8,323.3 L282.0,326.5 L286.2,328.6 L290.4,329.9 L294.6,332.2 L298.9,335.1 L303.1,336.4 L307.3,338.6 L311.5,340.8 L315.7,344.5 L320.0,347.5 L324.2,350.3 L328.4,353.7 L332.6,357.2 L336.8,360.6 L341.1,363.8 L345.3,367.0 L349.5,369.7 L353.7,372.7 L357.9,375.8 L362.2,378.0 L366.4,379.1 L370.6,380.9 L374.8,381.8 L379.0,383.7 L383.3,385.3 L387.5,386.8 L391.7,388.6 L395.9,390.0 L400.1,390.6 L404.4,391.3 L408.6,391.1 L412.8,391.3 L417.0,391.0 L421.2,393.0 L425.5,392.7 L429.7,390.7 L433.9,384.5 L438.1,381.9 L442.3,382.7 L446.6,382.6 L450.8,381.4 L455.0,379.7 L459.2,379.2 L463.4,379.0 L467.7,380.2 L471.9,381.1 L476.1,383.0 L480.3,385.2 L484.5,387.4 L488.8,388.6 L493.0,390.1 L497.2,391.1 L501.4,393.3 L505.6,395.3 L509.9,396.8 L514.1,397.6 L518.3,399.8 L522.5,402.1 L526.7,403.9 L531.0,405.0 L535.2,405.3 L539.4,405.7 L543.6,404.0 L547.8,404.5 L552.1,405.9 L556.3,407.5 L560.5,409.3 L564.7,411.3 L568.9,413.1 L573.2,414.6 L577.4,416.2 L581.6,418.0 L585.8,420.0 L590.0,420.8 L594.3,421.9 L598.5,420.8 L602.7,421.9 L606.9,422.9 L611.1,423.3 L615.4,424.2 L619.6,424.5 L623.8,423.7 L628.0,419.9 L632.2,418.3 L636.5,418.2 L640.7,417.9 L644.9,418.3 L649.1,418.2 L653.3,416.9 L657.6,416.6 L661.8,416.8 L666.0,416.5 L670.2,415.2 L674.4,415.1 L678.7,415.0 L682.9,415.5 L687.1,416.8 L691.3,417.6 L695.6,418.3 L699.8,419.6 L704.0,421.1 L708.2,422.7 L712.4,423.8 L716.7,423.4 L720.9,420.3 L725.1,417.2 L729.3,416.7 L733.5,417.2 L737.8,417.6 L742.0,418.4 L746.2,417.5 L750.4,418.6 L754.6,419.8 L758.9,420.7 L763.1,421.8 L767.3,422.7 L771.5,422.2 L775.7,421.8 L780.0,420.8 L784.2,418.3 L788.4,417.1 L792.6,415.9 L796.8,415.6 L801.1,415.0 L805.3,412.8 L809.5,407.0 L813.7,402.6 L817.9,400.9 L822.2,401.0 L826.4,401.8 L830.6,401.9 L834.8,398.4 L839.0,395.6 L843.3,392.6 L847.5,391.1 L851.7,388.4 L855.9,387.0 L860.1,385.8" fill="none" stroke="#e85a3a" stroke-width="1.25" stroke-opacity="0.8" stroke-linejoin="round"/><path d="M0.0,303.0 L3.4,303.0 L7.7,304.2 L11.9,305.8 L16.1,307.7 L20.3,309.9 L24.5,308.9 L28.8,308.6 L33.0,309.3 L37.2,311.4 L41.4,313.3 L45.6,314.0 L49.9,314.8 L54.1,315.6 L58.3,312.8 L62.5,311.5 L66.7,310.5 L71.0,311.8 L75.2,313.8 L79.4,313.4 L83.6,313.6 L87.8,314.9 L92.1,315.3 L96.3,314.8 L100.5,315.2 L104.7,317.0 L108.9,318.9 L113.2,320.2 L117.4,320.6 L121.6,321.0 L125.8,309.3 L130.0,304.0 L134.3,296.6 L138.5,292.0 L142.7,291.4 L146.9,293.2 L151.1,295.9 L155.4,299.2 L159.6,302.1 L163.8,304.5 L168.0,306.4 L172.2,308.9 L176.5,312.3 L180.7,314.3 L184.9,316.2 L189.1,317.2 L193.3,318.5 L197.6,318.4 L201.8,318.7 L206.0,320.5 L210.2,315.9 L214.4,312.3 L218.7,312.6 L222.9,312.7 L227.1,310.3 L231.3,306.3 L235.5,306.0 L239.8,304.9 L244.0,305.1 L248.2,306.6 L252.4,308.5 L256.6,311.4 L260.9,314.7 L265.1,318.0 L269.3,321.6 L273.5,323.1 L277.8,325.0 L282.0,328.6 L286.2,330.8 L290.4,332.1 L294.6,334.6 L298.9,337.7 L303.1,339.1 L307.3,341.4 L311.5,343.8 L315.7,347.7 L320.0,351.0 L324.2,354.0 L328.4,357.6 L332.6,361.3 L336.8,365.0 L341.1,368.3 L345.3,371.6 L349.5,374.5 L353.7,377.6 L357.9,380.9 L362.2,383.1 L366.4,384.0 L370.6,385.9 L374.8,386.6 L379.0,388.5 L383.3,390.0 L387.5,391.6 L391.7,393.3 L395.9,394.6 L400.1,395.0 L404.4,395.7 L408.6,395.3 L412.8,395.2 L417.0,394.8 L421.2,396.8 L425.5,396.2 L429.7,393.8 L433.9,386.7 L438.1,383.7 L442.3,384.5 L446.6,384.3 L450.8,382.9 L455.0,380.9 L459.2,380.3 L463.4,380.0 L467.7,381.3 L471.9,382.2 L476.1,384.3 L480.3,386.8 L484.5,389.1 L488.8,390.4 L493.0,392.0 L497.2,393.0 L501.4,395.4 L505.6,397.6 L509.9,399.2 L514.1,399.9 L518.3,402.2 L522.5,404.8 L526.7,406.6 L531.0,407.7 L535.2,407.9 L539.4,408.3 L543.6,406.2 L547.8,406.7 L552.1,408.1 L556.3,409.8 L560.5,411.7 L564.7,413.8 L568.9,415.7 L573.2,417.3 L577.4,418.9 L581.6,420.8 L585.8,422.9 L590.0,423.7 L594.3,424.8 L598.5,423.4 L602.7,424.5 L606.9,425.5 L611.1,425.9 L615.4,426.7 L619.6,426.9 L623.8,425.9 L628.0,421.5 L632.2,419.7 L636.5,419.5 L640.7,419.1 L644.9,419.5 L649.1,419.3 L653.3,417.8 L657.6,417.4 L661.8,417.6 L666.0,417.2 L670.2,415.8 L674.4,415.6 L678.7,415.5 L682.9,416.0 L687.1,417.4 L691.3,418.3 L695.6,419.1 L699.8,420.4 L704.0,422.1 L708.2,423.9 L712.4,425.0 L716.7,424.5 L720.9,420.9 L725.1,417.5 L729.3,416.9 L733.5,417.5 L737.8,417.9 L742.0,418.8 L746.2,417.8 L750.4,419.0 L754.6,420.3 L758.9,421.2 L763.1,422.5 L767.3,423.4 L771.5,422.8 L775.7,422.4 L780.0,421.3 L784.2,418.5 L788.4,417.1 L792.6,415.7 L796.8,415.4 L801.1,414.7 L805.3,412.3 L809.5,405.8 L813.7,400.9 L817.9,399.1 L822.2,399.3 L826.4,400.3 L830.6,400.4 L834.8,396.6 L839.0,393.6 L843.3,390.2 L847.5,388.7 L851.7,385.8 L855.9,384.3 L860.1,383.2" fill="none" stroke="#ef7440" stroke-width="1.25" stroke-opacity="0.8" stroke-linejoin="round"/><path d="M0.0,308.0 L3.4,308.0 L7.7,309.1 L11.9,310.6 L16.1,312.6 L20.3,314.8 L24.5,313.3 L28.8,312.8 L33.0,313.3 L37.2,315.5 L41.4,317.4 L45.6,318.0 L49.9,318.7 L54.1,319.4 L58.3,316.0 L62.5,314.3 L66.7,313.0 L71.0,314.4 L75.2,316.5 L79.4,315.9 L83.6,316.0 L87.8,317.4 L92.1,317.7 L96.3,317.0 L100.5,317.3 L104.7,319.2 L108.9,321.2 L113.2,322.6 L117.4,323.0 L121.6,323.2 L125.8,309.8 L130.0,303.8 L134.3,295.4 L138.5,290.2 L142.7,289.6 L146.9,291.7 L151.1,294.9 L155.4,298.7 L159.6,302.0 L163.8,304.7 L168.0,306.9 L172.2,309.7 L176.5,313.6 L180.7,315.8 L184.9,317.9 L189.1,318.9 L193.3,320.2 L197.6,320.0 L201.8,320.4 L206.0,322.3 L210.2,316.9 L214.4,312.7 L218.7,313.1 L222.9,313.2 L227.1,310.4 L231.3,305.9 L235.5,305.5 L239.8,304.3 L244.0,304.6 L248.2,306.3 L252.4,308.5 L256.6,311.7 L260.9,315.5 L265.1,319.3 L269.3,323.3 L273.5,324.9 L277.8,327.0 L282.0,331.0 L286.2,333.3 L290.4,334.7 L294.6,337.4 L298.9,340.8 L303.1,342.2 L307.3,344.6 L311.5,347.1 L315.7,351.5 L320.0,355.0 L324.2,358.2 L328.4,362.1 L332.6,366.0 L336.8,369.9 L341.1,373.4 L345.3,377.0 L349.5,380.0 L353.7,383.2 L357.9,386.6 L362.2,388.8 L366.4,389.5 L370.6,391.4 L374.8,391.9 L379.0,393.7 L383.3,395.2 L387.5,396.6 L391.7,398.3 L395.9,399.6 L400.1,399.8 L404.4,400.3 L408.6,399.5 L412.8,399.2 L417.0,398.5 L421.2,400.6 L425.5,399.7 L429.7,396.8 L433.9,388.5 L438.1,385.0 L442.3,385.8 L446.6,385.5 L450.8,383.9 L455.0,381.5 L459.2,380.8 L463.4,380.5 L467.7,381.9 L471.9,382.9 L476.1,385.3 L480.3,388.0 L484.5,390.6 L488.8,392.0 L493.0,393.7 L497.2,394.8 L501.4,397.4 L505.6,399.8 L509.9,401.5 L514.1,402.2 L518.3,404.7 L522.5,407.4 L526.7,409.3 L531.0,410.5 L535.2,410.5 L539.4,410.8 L543.6,408.4 L547.8,408.8 L552.1,410.3 L556.3,412.1 L560.5,414.2 L564.7,416.4 L568.9,418.4 L573.2,420.0 L577.4,421.8 L581.6,423.7 L585.8,426.0 L590.0,426.7 L594.3,427.8 L598.5,426.0 L602.7,427.1 L606.9,428.2 L611.1,428.4 L615.4,429.2 L619.6,429.3 L623.8,428.0 L628.0,422.9 L632.2,420.7 L636.5,420.4 L640.7,420.0 L644.9,420.4 L649.1,420.1 L653.3,418.4 L657.6,417.9 L661.8,418.0 L666.0,417.6 L670.2,415.9 L674.4,415.8 L678.7,415.6 L682.9,416.1 L687.1,417.8 L691.3,418.8 L695.6,419.6 L699.8,421.1 L704.0,423.0 L708.2,425.0 L712.4,426.2 L716.7,425.5 L720.9,421.4 L725.1,417.5 L729.3,416.8 L733.5,417.5 L737.8,418.0 L742.0,418.9 L746.2,417.8 L750.4,419.2 L754.6,420.6 L758.9,421.7 L763.1,423.1 L767.3,424.2 L771.5,423.4 L775.7,422.9 L780.0,421.6 L784.2,418.4 L788.4,416.8 L792.6,415.2 L796.8,414.9 L801.1,414.2 L805.3,411.4 L809.5,404.1 L813.7,398.6 L817.9,396.6 L822.2,397.1 L826.4,398.3 L830.6,398.6 L834.8,394.3 L839.0,391.0 L843.3,387.3 L847.5,385.8 L851.7,382.6 L855.9,381.1 L860.1,380.0" fill="none" stroke="#f38c48" stroke-width="1.25" stroke-opacity="0.8" stroke-linejoin="round"/><path d="M0.0,313.5 L3.4,313.5 L7.7,314.5 L11.9,315.9 L16.1,317.8 L20.3,320.0 L24.5,318.0 L28.8,317.1 L33.0,317.4 L37.2,319.7 L41.4,321.6 L45.6,322.0 L49.9,322.6 L54.1,323.1 L58.3,318.9 L62.5,316.8 L66.7,315.2 L71.0,316.6 L75.2,318.9 L79.4,318.1 L83.6,318.0 L87.8,319.5 L92.1,319.8 L96.3,318.7 L100.5,319.0 L104.7,321.1 L108.9,323.4 L113.2,324.8 L117.4,325.1 L121.6,325.3 L125.8,309.5 L130.0,302.6 L134.3,292.9 L138.5,287.0 L142.7,286.5 L146.9,289.2 L151.1,293.0 L155.4,297.6 L159.6,301.5 L163.8,304.7 L168.0,307.2 L172.2,310.5 L176.5,314.9 L180.7,317.4 L184.9,319.7 L189.1,320.8 L193.3,322.2 L197.6,321.9 L201.8,322.1 L206.0,324.3 L210.2,317.9 L214.4,313.0 L218.7,313.4 L222.9,313.4 L227.1,310.2 L231.3,305.0 L235.5,304.6 L239.8,303.3 L244.0,303.6 L248.2,305.7 L252.4,308.3 L256.6,312.1 L260.9,316.4 L265.1,320.7 L269.3,325.4 L273.5,327.1 L277.8,329.3 L282.0,333.8 L286.2,336.3 L290.4,337.8 L294.6,340.6 L298.9,344.4 L303.1,345.8 L307.3,348.4 L311.5,351.1 L315.7,355.8 L320.0,359.7 L324.2,363.0 L328.4,367.3 L332.6,371.5 L336.8,375.7 L341.1,379.4 L345.3,383.1 L349.5,386.2 L353.7,389.6 L357.9,393.1 L362.2,395.2 L366.4,395.7 L370.6,397.4 L374.8,397.6 L379.0,399.4 L383.3,400.7 L387.5,402.0 L391.7,403.6 L395.9,404.7 L400.1,404.7 L404.4,404.9 L408.6,403.7 L412.8,403.1 L417.0,402.0 L421.2,404.2 L425.5,403.0 L429.7,399.4 L433.9,389.6 L438.1,385.5 L442.3,386.4 L446.6,386.0 L450.8,384.0 L455.0,381.3 L459.2,380.4 L463.4,380.1 L467.7,381.8 L471.9,383.0 L476.1,385.7 L480.3,388.9 L484.5,391.9 L488.8,393.4 L493.0,395.3 L497.2,396.4 L501.4,399.3 L505.6,402.0 L509.9,403.8 L514.1,404.5 L518.3,407.2 L522.5,410.3 L526.7,412.3 L531.0,413.5 L535.2,413.3 L539.4,413.5 L543.6,410.5 L547.8,410.7 L552.1,412.4 L556.3,414.4 L560.5,416.6 L564.7,419.1 L568.9,421.2 L573.2,422.9 L577.4,424.7 L581.6,426.9 L585.8,429.2 L590.0,429.9 L594.3,430.9 L598.5,428.7 L602.7,429.8 L606.9,430.8 L611.1,430.9 L615.4,431.7 L619.6,431.7 L623.8,430.0 L628.0,423.9 L632.2,421.4 L636.5,421.0 L640.7,420.4 L644.9,420.8 L649.1,420.5 L653.3,418.5 L657.6,417.9 L661.8,418.0 L666.0,417.5 L670.2,415.6 L674.4,415.4 L678.7,415.2 L682.9,415.9 L687.1,417.8 L691.3,419.0 L695.6,420.0 L699.8,421.7 L704.0,423.9 L708.2,426.0 L712.4,427.4 L716.7,426.6 L720.9,421.8 L725.1,417.2 L729.3,416.3 L733.5,417.2 L737.8,417.8 L742.0,418.9 L746.2,417.6 L750.4,419.2 L754.6,420.9 L758.9,422.1 L763.1,423.7 L767.3,424.9 L771.5,424.0 L775.7,423.4 L780.0,421.8 L784.2,418.0 L788.4,416.2 L792.6,414.5 L796.8,414.2 L801.1,413.4 L805.3,410.2 L809.5,401.8 L813.7,395.5 L817.9,393.5 L822.2,394.1 L826.4,395.7 L830.6,396.2 L834.8,391.5 L839.0,387.8 L843.3,383.7 L847.5,382.2 L851.7,378.7 L855.9,377.2 L860.1,376.2" fill="none" stroke="#f5a652" stroke-width="1.25" stroke-opacity="0.8" stroke-linejoin="round"/><path d="M0.0,320.0 L3.4,320.0 L7.7,320.6 L11.9,321.9 L16.1,323.7 L20.3,325.8 L24.5,323.0 L28.8,321.5 L33.0,321.6 L37.2,324.0 L41.4,326.0 L45.6,326.0 L49.9,326.4 L54.1,326.8 L58.3,321.5 L62.5,318.8 L66.7,316.7 L71.0,318.3 L75.2,320.8 L79.4,319.8 L83.6,319.5 L87.8,321.2 L92.1,321.4 L96.3,320.0 L100.5,320.2 L104.7,322.7 L108.9,325.3 L113.2,326.8 L117.4,327.0 L121.6,327.1 L125.8,308.1 L130.0,300.0 L134.3,288.6 L138.5,282.0 L142.7,281.7 L146.9,285.3 L151.1,290.2 L155.4,295.9 L159.6,300.6 L163.8,304.5 L168.0,307.6 L172.2,311.4 L176.5,316.6 L180.7,319.4 L184.9,322.0 L189.1,323.1 L193.3,324.7 L197.6,324.0 L201.8,324.2 L206.0,326.6 L210.2,318.8 L214.4,312.9 L218.7,313.4 L222.9,313.4 L227.1,309.6 L231.3,303.4 L235.5,303.0 L239.8,301.6 L244.0,302.2 L248.2,304.7 L252.4,307.9 L256.6,312.4 L260.9,317.6 L265.1,322.6 L269.3,328.0 L273.5,329.8 L277.8,332.3 L282.0,337.4 L286.2,340.2 L290.4,341.6 L294.6,344.7 L298.9,348.9 L303.1,350.2 L307.3,352.9 L311.5,355.8 L315.7,361.1 L320.0,365.3 L324.2,368.9 L328.4,373.4 L332.6,378.0 L336.8,382.5 L341.1,386.4 L345.3,390.3 L349.5,393.4 L353.7,396.9 L357.9,400.5 L362.2,402.5 L366.4,402.5 L370.6,404.0 L374.8,403.8 L379.0,405.4 L383.3,406.5 L387.5,407.7 L391.7,409.1 L395.9,410.0 L400.1,409.5 L404.4,409.4 L408.6,407.7 L412.8,406.6 L417.0,405.0 L421.2,407.5 L425.5,405.8 L429.7,401.3 L433.9,389.5 L438.1,384.5 L442.3,385.7 L446.6,385.3 L450.8,383.0 L455.0,379.8 L459.2,378.9 L463.4,378.7 L467.7,380.7 L471.9,382.3 L476.1,385.5 L480.3,389.3 L484.5,392.9 L488.8,394.6 L493.0,396.8 L497.2,398.0 L501.4,401.3 L505.6,404.4 L509.9,406.3 L514.1,407.0 L518.3,410.1 L522.5,413.5 L526.7,415.6 L531.0,416.8 L535.2,416.3 L539.4,416.3 L543.6,412.5 L547.8,412.7 L552.1,414.5 L556.3,416.7 L560.5,419.2 L564.7,421.9 L568.9,424.3 L573.2,426.1 L577.4,428.0 L581.6,430.2 L585.8,432.8 L590.0,433.4 L594.3,434.3 L598.5,431.4 L602.7,432.5 L606.9,433.5 L611.1,433.4 L615.4,434.2 L619.6,433.9 L623.8,431.8 L628.0,424.4 L632.2,421.3 L636.5,420.8 L640.7,420.1 L644.9,420.7 L649.1,420.3 L653.3,417.9 L657.6,417.3 L661.8,417.5 L666.0,416.9 L670.2,414.7 L674.4,414.5 L678.7,414.4 L682.9,415.3 L687.1,417.6 L691.3,419.0 L695.6,420.1 L699.8,422.2 L704.0,424.8 L708.2,427.3 L712.4,428.8 L716.7,427.7 L720.9,421.9 L725.1,416.4 L729.3,415.5 L733.5,416.5 L737.8,417.3 L742.0,418.7 L746.2,417.2 L750.4,419.1 L754.6,421.1 L758.9,422.6 L763.1,424.5 L767.3,425.8 L771.5,424.6 L775.7,423.8 L780.0,422.0 L784.2,417.4 L788.4,415.3 L792.6,413.3 L796.8,413.0 L801.1,412.1 L805.3,408.5 L809.5,398.6 L813.7,391.3 L817.9,389.2 L822.2,390.4 L826.4,392.5 L830.6,393.4 L834.8,388.0 L839.0,383.8 L843.3,379.3 L847.5,377.7 L851.7,373.9 L855.9,372.5 L860.1,371.7" fill="none" stroke="#f6c260" stroke-width="1.25" stroke-opacity="0.8" stroke-linejoin="round"/><path d="M0.0,327.5 L3.4,327.5 L7.7,327.6 L11.9,328.4 L16.1,330.1 L20.3,332.1 L24.5,328.0 L28.8,325.7 L33.0,325.4 L37.2,328.0 L41.4,330.1 L45.6,329.8 L49.9,329.9 L54.1,330.1 L58.3,323.1 L62.5,319.7 L66.7,316.9 L71.0,318.9 L75.2,322.0 L79.4,320.6 L83.6,320.2 L87.8,322.2 L92.1,322.3 L96.3,320.6 L100.5,320.8 L104.7,323.7 L108.9,326.8 L113.2,328.7 L117.4,328.7 L121.6,328.6 L125.8,305.0 L130.0,295.2 L134.3,281.6 L138.5,274.0 L142.7,274.5 L146.9,279.6 L151.1,286.2 L155.4,293.6 L159.6,299.7 L163.8,304.6 L168.0,308.4 L172.2,313.1 L176.5,319.4 L180.7,322.6 L184.9,325.5 L189.1,326.5 L193.3,328.1 L197.6,327.0 L201.8,326.9 L206.0,329.6 L210.2,319.7 L214.4,312.3 L218.7,313.0 L222.9,313.0 L227.1,308.3 L231.3,300.8 L235.5,300.6 L239.8,299.0 L244.0,300.0 L248.2,303.3 L252.4,307.4 L256.6,313.1 L260.9,319.4 L265.1,325.5 L269.3,331.9 L273.5,333.8 L277.8,336.5 L282.0,342.4 L286.2,345.3 L290.4,346.6 L294.6,350.0 L298.9,354.7 L303.1,355.7 L307.3,358.6 L311.5,361.6 L315.7,367.6 L320.0,372.1 L324.2,376.0 L328.4,380.9 L332.6,385.9 L336.8,390.7 L341.1,394.7 L345.3,398.8 L349.5,401.8 L353.7,405.3 L357.9,409.0 L362.2,410.6 L366.4,409.8 L370.6,411.0 L374.8,410.1 L379.0,411.5 L383.3,412.3 L387.5,413.2 L391.7,414.5 L395.9,415.1 L400.1,414.0 L404.4,413.4 L408.6,410.9 L412.8,409.3 L417.0,407.1 L421.2,409.9 L425.5,407.5 L429.7,401.8 L433.9,387.1 L438.1,381.2 L442.3,383.0 L446.6,382.8 L450.8,380.1 L455.0,376.5 L459.2,375.7 L463.4,375.7 L467.7,378.6 L471.9,380.6 L476.1,384.8 L480.3,389.6 L484.5,393.9 L488.8,396.0 L493.0,398.5 L497.2,400.0 L501.4,403.8 L505.6,407.4 L509.9,409.5 L514.1,410.0 L518.3,413.5 L522.5,417.4 L526.7,419.7 L531.0,420.8 L535.2,419.8 L539.4,419.4 L543.6,414.4 L547.8,414.5 L552.1,416.6 L556.3,419.1 L560.5,421.9 L564.7,425.1 L568.9,427.7 L573.2,429.6 L577.4,431.6 L581.6,434.1 L585.8,436.9 L590.0,437.2 L594.3,438.0 L598.5,434.0 L602.7,435.1 L606.9,436.1 L611.1,435.8 L615.4,436.5 L619.6,436.0 L623.8,433.1 L628.0,423.8 L632.2,420.1 L636.5,419.6 L640.7,418.9 L644.9,419.7 L649.1,419.2 L653.3,416.5 L657.6,415.8 L661.8,416.2 L666.0,415.6 L670.2,413.0 L674.4,412.9 L678.7,412.9 L682.9,414.1 L687.1,417.1 L691.3,418.9 L695.6,420.3 L699.8,422.9 L704.0,426.0 L708.2,429.0 L712.4,430.7 L716.7,429.2 L720.9,421.8 L725.1,415.0 L729.3,414.0 L733.5,415.4 L737.8,416.5 L742.0,418.3 L746.2,416.5 L750.4,418.9 L754.6,421.4 L758.9,423.2 L763.1,425.5 L767.3,427.0 L771.5,425.5 L775.7,424.4 L780.0,422.0 L784.2,416.4 L788.4,413.9 L792.6,411.5 L796.8,411.4 L801.1,410.4 L805.3,406.1 L809.5,394.1 L813.7,385.5 L817.9,383.4 L822.2,385.4 L826.4,388.6 L830.6,390.0 L834.8,383.6 L839.0,378.9 L843.3,373.8 L847.5,372.4 L851.7,368.1 L855.9,367.0 L860.1,366.4" fill="none" stroke="#f2dc70" stroke-width="1.25" stroke-opacity="0.8" stroke-linejoin="round"/></g>
<line x1="931.5" x2="931.5" y1="26" y2="521" stroke="#aeb1b8" stroke-width="1" stroke-dasharray="3.4 3.7"/>
<line x1="1" x2="1167" y1="303.5" y2="303.5" stroke="#aeb1b8" stroke-width="1" stroke-dasharray="3.4 3.7"/>
<line x1="1167.5" x2="1167.5" y1="26" y2="541" stroke="#9a9da5" stroke-width="1"/>
<line x1="1" x2="1198" y1="521.5" y2="521.5" stroke="#9a9da5" stroke-width="1"/>
<g font-family="Liberation Sans, sans-serif" font-size="8.3" fill="#131722"><text x="1173.2" y="519.9" textLength="18.6" lengthAdjust="spacingAndGlyphs">12.00</text><text x="1173.2" y="485.3" textLength="18.6" lengthAdjust="spacingAndGlyphs">14.00</text><text x="1173.2" y="450.7" textLength="18.6" lengthAdjust="spacingAndGlyphs">16.00</text><text x="1173.2" y="416.2" textLength="18.6" lengthAdjust="spacingAndGlyphs">18.00</text><text x="1173.2" y="381.6" textLength="18.6" lengthAdjust="spacingAndGlyphs">20.00</text><text x="1173.2" y="347.1" textLength="18.6" lengthAdjust="spacingAndGlyphs">22.00</text><text x="1173.2" y="312.5" textLength="18.6" lengthAdjust="spacingAndGlyphs">24.00</text><text x="1173.2" y="277.9" textLength="18.6" lengthAdjust="spacingAndGlyphs">26.00</text><text x="1173.2" y="243.4" textLength="18.6" lengthAdjust="spacingAndGlyphs">28.00</text><text x="1173.2" y="208.8" textLength="18.6" lengthAdjust="spacingAndGlyphs">30.00</text><text x="1173.2" y="174.3" textLength="18.6" lengthAdjust="spacingAndGlyphs">32.00</text><text x="1173.2" y="139.7" textLength="18.6" lengthAdjust="spacingAndGlyphs">34.00</text><text x="1173.2" y="105.1" textLength="18.6" lengthAdjust="spacingAndGlyphs">36.00</text><text x="1173.2" y="70.6" textLength="18.6" lengthAdjust="spacingAndGlyphs">38.00</text></g>
</svg>
<!-- top toolbar -->
<div class="a" style="left:1px;top:25px;width:1197px;height:1px;background:#dfe1e6"></div>
<div class="sep" style="left:67px;top:1px;height:24px"></div>
<div class="sep" style="left:92px;top:1px;height:24px"></div>
<div class="sep" style="left:118px;top:1px;height:24px"></div>
<div class="sep" style="left:167px;top:1px;height:24px"></div>
<div class="sep" style="left:275px;top:1px;height:24px"></div>
<div class="sep" style="left:380px;top:1px;height:24px"></div>
<div class="sep" style="left:465px;top:1px;height:24px"></div>
<div class="sep" style="left:533px;top:1px;height:24px"></div>
<div class="sep" style="left:600px;top:1px;height:24px"></div>
<div class="sep" style="left:641px;top:1px;height:24px"></div>
<div class="sep" style="left:995px;top:1px;height:24px"></div>
<div class="sep" style="left:1021px;top:1px;height:24px"></div>
<div class="sep" style="left:1081px;top:1px;height:24px"></div>
<div class="sep" style="left:1106px;top:1px;height:24px"></div>
<div class="sep" style="left:1132px;top:1px;height:24px"></div>

<div class="a" style="left:8px;top:7px;font-family:'Liberation Sans',sans-serif;font-weight:bold;font-size:8.7px;line-height:12px;color:#131722">VIX</div>
<div class="a t" style="left:76px;">日</div>
<svg class="ic" style="left:100px;top:6px" width="13" height="15" viewBox="0 0 13 15" fill="none" stroke="#3b3e48" stroke-width="0.9"><path d="M3.5 0.5v2M3.5 12.5v2M9.5 2.5v2M9.5 10.5v2"/><rect x="1.5" y="2.5" width="4" height="10" rx="0.5"/><rect x="7.5" y="4.5" width="4" height="6" rx="0.5"/></svg>
<svg class="ic" style="left:124px;top:7px" width="14" height="14" viewBox="0 0 14 14" fill="none" stroke="#2a2e39" stroke-width="0.9"><circle cx="7" cy="7" r="5.9"/><path d="M7 3.8v6.4M3.8 7h6.4"/></svg>
<div class="a t" style="left:142px;">比較</div>
<svg class="ic" style="left:174px;top:5px" width="12" height="15" viewBox="0 0 12 15" fill="none" stroke="#2a2e39" stroke-width="1"><path d="M9 3.7C8 2.3 5.6 2.5 5.5 4.5L5.3 11C5.2 13 3 13.3 2.2 12.2M2.2 6.4H9"/><path d="M7.3 10.2L9.8 12.8M9.8 10.2L7.3 12.8" stroke-width="0.8"/></svg>
<div class="a t" style="left:190.5px;font-size:9.3px">インジケーター</div>
<svg class="ic" style="left:265px;top:11px" width="7" height="5" viewBox="0 0 7 5" fill="none" stroke="#131722" stroke-width="1"><path d="M0.8 0.8l2.7 2.7 2.7-2.7"/></svg>
<svg class="ic" style="left:281px;top:7px" width="14" height="13" viewBox="0 0 14 13" fill="none" stroke="#2a2e39" stroke-width="0.9"><rect x="1.4" y="7.8" width="2" height="3.7"/><rect x="4.9" y="3.7" width="2.2" height="7.8"/><rect x="9.7" y="1.8" width="2.6" height="9.7"/></svg>
<div class="a t" style="left:298px;">ファンダメンタル</div>
<svg class="ic" style="left:386px;top:7px" width="14" height="13" viewBox="0 0 14 13" fill="none" stroke="#2a2e39" stroke-width="0.9"><path d="M1.3 4.6C2 1.6 3.8 0.9 5 2.2S7 5.4 8.3 4.6 10.8 2.4 12.4 1.4"/><path d="M1.4 7v4.5M4.5 6.2v5.3M7.6 7.2v4.3M10.6 6.2v5.3" stroke-dasharray="1.2 0.6"/></svg>
<div class="a t" style="left:403px;">テンプレート</div>
<svg class="ic" style="left:471px;top:6px" width="15" height="15" viewBox="0 0 15 15" fill="none" stroke="#2a2e39" stroke-width="0.9"><path d="M10.6 9.6A4.9 4.9 0 1 0 8.8 11.7"/><path d="M1.3 4.3A2 2 0 0 1 3.6 1.6M12.9 4.3A2 2 0 0 0 10.6 1.6M7 4.8v2.7h1.6"/><path d="M11 10v4M9 12h4"/></svg>
<div class="a t" style="left:488px;">アラート</div>
<svg class="ic" style="left:541px;top:9.5px" width="12" height="9" viewBox="0 0 12 9" fill="none" stroke="#2a2e39" stroke-width="0.9" stroke-linejoin="round"><path d="M0.8 4.2L5 0.8V7.6ZM5.8 4.2L10 0.8V7.6Z"/></svg>
<div class="a t" style="left:555px;">リプレイ</div>
<svg class="ic" style="left:606px;top:9px" width="11" height="8" viewBox="0 0 11 8" fill="none" stroke="#131722" stroke-width="1"><path d="M4 0.8L1 3.5 4 6.2M1.2 3.5h5a3.5 3.5 0 0 1 3.5 3.5v0.8"/></svg>
<svg class="ic" style="left:624px;top:9px" width="11" height="8" viewBox="0 0 11 8" fill="none" stroke="#b2b5be" stroke-width="1"><path d="M7 0.8L10 3.5 7 6.2M9.8 3.5h-5a3.5 3.5 0 0 0-3.5 3.5v0.8"/></svg>

<svg class="ic" style="left:1002px;top:8px" width="14" height="12" viewBox="0 0 14 12" fill="none" stroke="#50535e" stroke-width="1"><rect x="0.9" y="0.7" width="12" height="10" rx="0.8"/></svg>
<svg class="ic" style="left:1025px;top:8px" width="18" height="11" viewBox="0 0 18 11" fill="none" stroke="#50535e" stroke-width="0.9" stroke-dasharray="1.5 1.3"><path d="M3.6 10.2h10.6a2.8 2.8 0 0 0 0.6-5.5A5.6 5.6 0 0 0 4.2 3.9 3.2 3.2 0 0 0 3.6 10.2z"/></svg>
<div class="a t" style="left:1045px;font-weight:400">無題</div>
<svg class="ic" style="left:1071px;top:11px" width="7" height="5" viewBox="0 0 7 5" fill="none" stroke="#131722" stroke-width="1"><path d="M0.8 0.8l2.7 2.7 2.7-2.7"/></svg>
<svg class="ic" style="left:1086px;top:6px" width="15" height="15" viewBox="0 0 15 15" fill="none" stroke="#2a2e39" stroke-width="0.95"><path d="M12.08,9.06 L11.95,9.35 L11.91,9.69 L12.26,10.31 L12.54,10.99 L12.37,11.39 L12.09,11.69 L11.79,11.97 L11.39,12.14 L10.71,11.86 L10.09,11.51 L9.75,11.55 L9.46,11.68 L9.16,11.79 L8.89,12.01 L8.69,12.69 L8.41,13.37 L8.02,13.54 L7.60,13.55 L7.18,13.54 L6.79,13.37 L6.51,12.69 L6.31,12.01 L6.04,11.79 L5.74,11.68 L5.45,11.55 L5.11,11.51 L4.49,11.86 L3.81,12.14 L3.41,11.97 L3.11,11.69 L2.83,11.39 L2.66,10.99 L2.94,10.31 L3.29,9.69 L3.25,9.35 L3.12,9.06 L3.01,8.76 L2.79,8.49 L2.11,8.29 L1.43,8.01 L1.26,7.62 L1.25,7.20 L1.26,6.78 L1.43,6.39 L2.11,6.11 L2.79,5.91 L3.01,5.64 L3.12,5.34 L3.25,5.05 L3.29,4.71 L2.94,4.09 L2.66,3.41 L2.83,3.01 L3.11,2.71 L3.41,2.43 L3.81,2.26 L4.49,2.54 L5.11,2.89 L5.45,2.85 L5.74,2.72 L6.04,2.61 L6.31,2.39 L6.51,1.71 L6.79,1.03 L7.18,0.86 L7.60,0.85 L8.02,0.86 L8.41,1.03 L8.69,1.71 L8.89,2.39 L9.16,2.61 L9.46,2.72 L9.75,2.85 L10.09,2.89 L10.71,2.54 L11.39,2.26 L11.79,2.43 L12.09,2.71 L12.37,3.01 L12.54,3.41 L12.26,4.09 L11.91,4.71 L11.95,5.05 L12.08,5.34 L12.19,5.64 L12.41,5.91 L13.09,6.11 L13.77,6.39 L13.94,6.78 L13.95,7.20 L13.94,7.62 L13.77,8.01 L13.09,8.29 L12.41,8.49 L12.19,8.76 L12.08,9.06Z"/><circle cx="7.6" cy="7.2" r="2"/></svg>
<svg class="ic" style="left:1113px;top:7px" width="13" height="12" viewBox="0 0 13 12" fill="none" stroke="#2a2e39" stroke-width="0.9"><path d="M1 1h3.2L1 4.2zM12 1H8.8L12 4.2zM1 11h3.2L1 7.8zM12 11H8.8L12 7.8z" fill="#2a2e39" stroke-width="0.5"/><path d="M1.5 1.5l3 3M11.5 1.5l-3 3M1.5 10.5l3-3M11.5 10.5l-3-3"/></svg>
<svg class="ic" style="left:1137px;top:6px" width="16" height="13" viewBox="0 0 16 13" fill="none" stroke="#2a2e39" stroke-width="0.9"><path d="M1.3 3h3l1.2-1.6h4.6L11.3 3h3.4v9.4H1.3z"/><circle cx="7.8" cy="7.6" r="2.6"/></svg>
<div class="a" style="left:1158px;top:0;width:40px;height:25px;background:#2962ff"></div>
<div class="a" style="left:1158px;top:6px;width:40px;text-align:center;font-family:'Liberation Sans','Noto Sans CJK JP',sans-serif;font-weight:bold;font-size:10px;line-height:13px;color:#fff">投稿</div>

<!-- legend -->
<div class="a lt" style="left:7px">恐怖指数（VIX）</div>
<div class="a lt" style="left:86.5px">·</div>
<div class="a lt" style="left:93.5px">1日</div>
<div class="a lt" style="left:110.7px">·</div>
<div class="a lt" style="left:117px;transform:scaleX(0.9);transform-origin:0 0">TVC</div>
<div class="a" style="left:146px;top:34px;width:12px;height:8px;background:#eceef2;border-radius:4px 0 0 4px"></div>
<div class="a" style="left:158px;top:34px;width:12.5px;height:8px;background:#fde8ee;border-radius:0 4px 4px 0"></div>
<div class="a" style="left:149.5px;top:37.3px;width:6px;height:1.4px;background:#50535e"></div>
<div class="a" style="left:161.3px;top:36.6px;width:5px;height:1px;background:#ef5350"></div>
<div class="a" style="left:161.3px;top:38.6px;width:5px;height:1px;background:#ef5350"></div>
<div class="a lg" style="left:182.5px">始値</div><div class="a lv" style="left:199.5px">22.95</div>
<div class="a lg" style="left:225.5px">高値</div><div class="a lv" style="left:243px">24.40</div>
<div class="a lg" style="left:269px">安値</div><div class="a lv" style="left:286.5px">20.99</div>
<div class="a lg" style="left:312px">終値</div><div class="a lv" style="left:329px">21.01</div>
<div class="a lv" style="left:356px">−0.30</div><div class="a lv" style="left:381px;transform:scaleX(0.84);transform-origin:0 0">(−1.41%)</div>


<!-- price axis extras -->
<div class="a" style="left:1170px;top:31px;width:23px;height:11px;border:1px solid #e0e3eb;border-radius:2px;background:#fff"></div>
<div class="a ax" style="left:1173.5px;top:32.2px;color:#6a6d78;font-size:8px;transform:scaleX(0.84);transform-origin:0 0">USD</div>
<svg class="ic" style="left:1188.6px;top:36.2px" width="5" height="3" viewBox="0 0 5 3" fill="none" stroke="#50535e" stroke-width="1"><path d="M0.6 0.6l1.9 1.8 1.9-1.8"/></svg>

<div class="a" style="left:1152px;top:297px;width:14px;height:14px;background:#131722;border-radius:2px 0 0 2px"></div>
<svg class="ic" style="left:1153px;top:298px" width="13" height="12" viewBox="0 0 13 12" fill="none" stroke="#fff" stroke-width="1"><circle cx="6.5" cy="6" r="4.6"/><path d="M6.5 3.6v4.8M4.1 6h4.8"/></svg>
<div class="a" style="left:1168px;top:297px;width:28px;height:14px;background:#131722;border-radius:0 2px 2px 0"></div>
<div class="a" style="left:1148px;top:357px;width:18px;height:11px;background:#ef5350;border-radius:2px 0 0 2px"></div>
<div class="a" style="left:1168px;top:357px;width:28px;height:11px;background:#ef5350;border-radius:0 2px 2px 0"></div>

<!-- time axis -->
<div class="a ax" style="left:47px;top:526.5px;width:22px;text-align:center;font-weight:bold">2021</div>
<div class="a ax" style="left:128px;top:526.5px;width:20px;text-align:center">2月</div>
<div class="a ax" style="left:208px;top:526.5px;width:20px;text-align:center">3月</div>
<div class="a ax" style="left:305px;top:526.5px;width:20px;text-align:center">4月</div>
<div class="a ax" style="left:394px;top:526.5px;width:20px;text-align:center">5月</div>
<div class="a ax" style="left:478px;top:526.5px;width:20px;text-align:center">6月</div>
<div class="a ax" style="left:571px;top:526.5px;width:20px;text-align:center">7月</div>
<div class="a ax" style="left:660px;top:526.5px;width:20px;text-align:center">8月</div>
<div class="a ax" style="left:752px;top:526.5px;width:20px;text-align:center">9月</div>
<div class="a ax" style="left:835px;top:526.5px;width:24px;text-align:center">10月</div>
<div class="a ax" style="left:1012px;top:526.5px;width:24px;text-align:center">12月</div>
<div class="a ax" style="left:1106px;top:526.5px;width:22px;text-align:center;font-weight:bold">2022</div>
<div class="a" style="left:907px;top:522px;width:48.5px;height:15px;background:#131722;border-radius:1px"></div>
<svg class="ic" style="left:1176.5px;top:524.5px" width="13" height="13" viewBox="0 0 13 13" fill="none" stroke="#2a2e39" stroke-width="0.9"><path d="M9.86,7.97 L9.75,8.20 L9.71,8.47 L9.96,8.94 L10.15,9.46 L10.02,9.76 L9.80,10.00 L9.56,10.22 L9.26,10.35 L8.74,10.16 L8.27,9.91 L8.00,9.95 L7.77,10.06 L7.54,10.15 L7.32,10.31 L7.16,10.82 L6.93,11.32 L6.62,11.44 L6.30,11.45 L5.98,11.44 L5.67,11.32 L5.44,10.82 L5.28,10.31 L5.06,10.15 L4.83,10.06 L4.60,9.95 L4.33,9.91 L3.86,10.16 L3.34,10.35 L3.04,10.22 L2.80,10.00 L2.58,9.76 L2.45,9.46 L2.64,8.94 L2.89,8.47 L2.85,8.20 L2.74,7.97 L2.65,7.74 L2.49,7.52 L1.98,7.36 L1.48,7.13 L1.36,6.82 L1.35,6.50 L1.36,6.18 L1.48,5.87 L1.98,5.64 L2.49,5.48 L2.65,5.26 L2.74,5.03 L2.85,4.80 L2.89,4.53 L2.64,4.06 L2.45,3.54 L2.58,3.24 L2.80,3.00 L3.04,2.78 L3.34,2.65 L3.86,2.84 L4.33,3.09 L4.60,3.05 L4.83,2.94 L5.06,2.85 L5.28,2.69 L5.44,2.18 L5.67,1.68 L5.98,1.56 L6.30,1.55 L6.62,1.56 L6.93,1.68 L7.16,2.18 L7.32,2.69 L7.54,2.85 L7.77,2.94 L8.00,3.05 L8.27,3.09 L8.74,2.84 L9.26,2.65 L9.56,2.78 L9.80,3.00 L10.02,3.24 L10.15,3.54 L9.96,4.06 L9.71,4.53 L9.75,4.80 L9.86,5.03 L9.95,5.26 L10.11,5.48 L10.62,5.64 L11.12,5.87 L11.24,6.18 L11.25,6.50 L11.24,6.82 L11.12,7.13 L10.62,7.36 L10.11,7.52 L9.95,7.74 L9.86,7.97Z"/></svg>
<div class="a" style="left:1px;top:539px;width:1197px;height:1px;background:#e6e8ec"></div>

<!-- TV logo -->
<div class="a" style="left:6.3px;top:496.9px;width:19.6px;height:19.6px;border-radius:50%;background:#fff;border:0.8px solid #e6e7ea"></div>
<svg class="ic" style="left:9px;top:503px" width="16" height="8" viewBox="0 0 16 8"><path d="M0.9 0.8H6.2V7.3H4.3V2.6H0.9Z" fill="#131722"/><circle cx="9.1" cy="1.7" r="1.05" fill="#131722"/><path d="M12.2 0.8H14.8L11.9 7.3H9.3Z" fill="#131722"/></svg>

<!-- bottom toolbar -->
<div class="a bt" style="left:12.5px;top:547px">1日</div>
<div class="a bt" style="left:34.5px;top:547px">5日</div>
<div class="a bt" style="left:58.5px;top:547px">1ヶ月</div>
<div class="a bt" style="left:90.5px;top:547px">3ヶ月</div>
<div class="a bt" style="left:122.5px;top:547px">6ヶ月</div>
<div class="a bt" style="left:155.5px;top:547px">年初来</div>
<div class="a bt" style="left:193px;top:547px">1年</div>
<div class="a bt" style="left:215.5px;top:547px">5年</div>
<div class="a bt" style="left:238.5px;top:547px">すべて</div>
<div class="sep" style="left:276px;top:544px;height:16px"></div>
<svg class="ic" style="left:287px;top:547px" width="12" height="12" viewBox="0 0 12 12" fill="none" stroke="#131722" stroke-width="1"><path d="M1.5 1.5h9v9h-9zM1.5 4h9"/><path d="M3.5 0v2.5M8.5 0v2.5"/><path d="M0 7.5h6M4.5 6l1.5 1.5-1.5 1.5" /></svg>
<div class="a bt" style="left:1000px;top:547px;font-size:8.6px;color:#2a2e39;transform:scaleX(0.97);transform-origin:0 0">15:16:25 (UTC+9)</div>
<div class="sep" style="left:1080px;top:544px;height:16px"></div>
<div class="a bt" style="left:1090px;top:547px">%</div>
<div class="a bt" style="left:1108px;top:547px">ログスケール</div>
<div class="a bt" style="left:1172.8px;top:547px;color:#2962ff">自動</div>
<svg class="a" style="left:0;top:0" width="1200" height="567" viewBox="0 0 1200 567" font-family="Liberation Sans, sans-serif" fill="#fff">
<text x="1173.2" y="306.8" font-size="8.6" textLength="18.6" lengthAdjust="spacingAndGlyphs">24.36</text>
<text x="1151.6" y="365.3" font-size="8.4" textLength="10.8" lengthAdjust="spacingAndGlyphs">VIX</text>
<text x="1173.4" y="365.3" font-size="8.6" textLength="18.2" lengthAdjust="spacingAndGlyphs">21.01</text>
<text x="912.6" y="533.8" font-size="9.4" font-weight="bold" textLength="37.4" lengthAdjust="spacingAndGlyphs">2021-10-29</text>
</svg>
</body></html>
